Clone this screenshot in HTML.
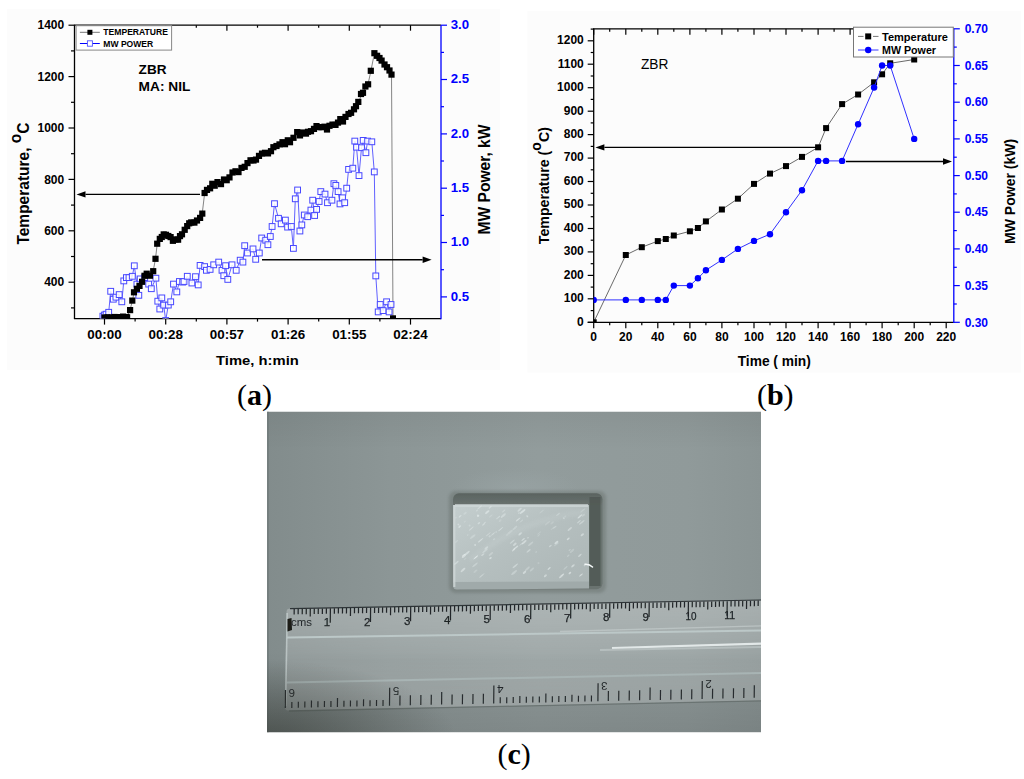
<!DOCTYPE html>
<html><head><meta charset="utf-8"><style>
html,body{margin:0;padding:0;background:#fff;}
body{width:1024px;height:779px;overflow:hidden;position:relative;}
svg{position:absolute;left:0;top:0;}
</style></head><body>
<svg width="1024" height="779" viewBox="0 0 1024 779">
<rect x="7" y="9" width="493" height="361" fill="#fcfcfc"/>
<line x1="71.0" y1="307.9" x2="74.5" y2="307.9" stroke="#000" stroke-width="1.2"/>
<line x1="68.5" y1="282.2" x2="74.5" y2="282.2" stroke="#000" stroke-width="1.2"/>
<text x="64.2" y="286.3" font-size="12" font-weight="bold" fill="#000" text-anchor="end" font-family='"Liberation Sans", sans-serif' >400</text>
<line x1="71.0" y1="256.5" x2="74.5" y2="256.5" stroke="#000" stroke-width="1.2"/>
<line x1="68.5" y1="230.8" x2="74.5" y2="230.8" stroke="#000" stroke-width="1.2"/>
<text x="64.2" y="234.9" font-size="12" font-weight="bold" fill="#000" text-anchor="end" font-family='"Liberation Sans", sans-serif' >600</text>
<line x1="71.0" y1="205.1" x2="74.5" y2="205.1" stroke="#000" stroke-width="1.2"/>
<line x1="68.5" y1="179.4" x2="74.5" y2="179.4" stroke="#000" stroke-width="1.2"/>
<text x="64.2" y="183.5" font-size="12" font-weight="bold" fill="#000" text-anchor="end" font-family='"Liberation Sans", sans-serif' >800</text>
<line x1="71.0" y1="153.7" x2="74.5" y2="153.7" stroke="#000" stroke-width="1.2"/>
<line x1="68.5" y1="128.0" x2="74.5" y2="128.0" stroke="#000" stroke-width="1.2"/>
<text x="64.2" y="132.1" font-size="12" font-weight="bold" fill="#000" text-anchor="end" font-family='"Liberation Sans", sans-serif' >1000</text>
<line x1="71.0" y1="102.3" x2="74.5" y2="102.3" stroke="#000" stroke-width="1.2"/>
<line x1="68.5" y1="76.6" x2="74.5" y2="76.6" stroke="#000" stroke-width="1.2"/>
<text x="64.2" y="80.7" font-size="12" font-weight="bold" fill="#000" text-anchor="end" font-family='"Liberation Sans", sans-serif' >1200</text>
<line x1="71.0" y1="50.9" x2="74.5" y2="50.9" stroke="#000" stroke-width="1.2"/>
<line x1="68.5" y1="25.2" x2="74.5" y2="25.2" stroke="#000" stroke-width="1.2"/>
<text x="64.2" y="29.3" font-size="12" font-weight="bold" fill="#000" text-anchor="end" font-family='"Liberation Sans", sans-serif' >1400</text>
<line x1="441.0" y1="296.9" x2="447.0" y2="296.9" stroke="#0000ff" stroke-width="1.2"/>
<text x="450.7" y="300.8" font-size="12.7" font-weight="bold" fill="#0000ff" text-anchor="start" font-family='"Liberation Sans", sans-serif' textLength="18.4" lengthAdjust="spacingAndGlyphs" >0.5</text>
<line x1="441.0" y1="269.7" x2="444.0" y2="269.7" stroke="#0000ff" stroke-width="1.2"/>
<line x1="441.0" y1="242.5" x2="447.0" y2="242.5" stroke="#0000ff" stroke-width="1.2"/>
<text x="450.7" y="246.4" font-size="12.7" font-weight="bold" fill="#0000ff" text-anchor="start" font-family='"Liberation Sans", sans-serif' textLength="18.4" lengthAdjust="spacingAndGlyphs" >1.0</text>
<line x1="441.0" y1="215.4" x2="444.0" y2="215.4" stroke="#0000ff" stroke-width="1.2"/>
<line x1="441.0" y1="188.2" x2="447.0" y2="188.2" stroke="#0000ff" stroke-width="1.2"/>
<text x="450.7" y="192.1" font-size="12.7" font-weight="bold" fill="#0000ff" text-anchor="start" font-family='"Liberation Sans", sans-serif' textLength="18.4" lengthAdjust="spacingAndGlyphs" >1.5</text>
<line x1="441.0" y1="161.0" x2="444.0" y2="161.0" stroke="#0000ff" stroke-width="1.2"/>
<line x1="441.0" y1="133.9" x2="447.0" y2="133.9" stroke="#0000ff" stroke-width="1.2"/>
<text x="450.7" y="137.8" font-size="12.7" font-weight="bold" fill="#0000ff" text-anchor="start" font-family='"Liberation Sans", sans-serif' textLength="18.4" lengthAdjust="spacingAndGlyphs" >2.0</text>
<line x1="441.0" y1="106.7" x2="444.0" y2="106.7" stroke="#0000ff" stroke-width="1.2"/>
<line x1="441.0" y1="79.5" x2="447.0" y2="79.5" stroke="#0000ff" stroke-width="1.2"/>
<text x="450.7" y="83.4" font-size="12.7" font-weight="bold" fill="#0000ff" text-anchor="start" font-family='"Liberation Sans", sans-serif' textLength="18.4" lengthAdjust="spacingAndGlyphs" >2.5</text>
<line x1="441.0" y1="52.4" x2="444.0" y2="52.4" stroke="#0000ff" stroke-width="1.2"/>
<line x1="441.0" y1="25.2" x2="447.0" y2="25.2" stroke="#0000ff" stroke-width="1.2"/>
<text x="450.7" y="29.1" font-size="12.7" font-weight="bold" fill="#0000ff" text-anchor="start" font-family='"Liberation Sans", sans-serif' textLength="18.4" lengthAdjust="spacingAndGlyphs" >3.0</text>
<line x1="104.5" y1="318.6" x2="104.5" y2="324.6" stroke="#000" stroke-width="1.2"/>
<line x1="104.5" y1="25.2" x2="104.5" y2="30.7" stroke="#000" stroke-width="1.2"/>
<line x1="135.1" y1="318.6" x2="135.1" y2="321.6" stroke="#000" stroke-width="1.2"/>
<line x1="135.1" y1="25.2" x2="135.1" y2="27.7" stroke="#000" stroke-width="1.2"/>
<line x1="165.7" y1="318.6" x2="165.7" y2="324.6" stroke="#000" stroke-width="1.2"/>
<line x1="165.7" y1="25.2" x2="165.7" y2="30.7" stroke="#000" stroke-width="1.2"/>
<line x1="196.3" y1="318.6" x2="196.3" y2="321.6" stroke="#000" stroke-width="1.2"/>
<line x1="196.3" y1="25.2" x2="196.3" y2="27.7" stroke="#000" stroke-width="1.2"/>
<line x1="226.9" y1="318.6" x2="226.9" y2="324.6" stroke="#000" stroke-width="1.2"/>
<line x1="226.9" y1="25.2" x2="226.9" y2="30.7" stroke="#000" stroke-width="1.2"/>
<line x1="257.5" y1="318.6" x2="257.5" y2="321.6" stroke="#000" stroke-width="1.2"/>
<line x1="257.5" y1="25.2" x2="257.5" y2="27.7" stroke="#000" stroke-width="1.2"/>
<line x1="288.1" y1="318.6" x2="288.1" y2="324.6" stroke="#000" stroke-width="1.2"/>
<line x1="288.1" y1="25.2" x2="288.1" y2="30.7" stroke="#000" stroke-width="1.2"/>
<line x1="318.7" y1="318.6" x2="318.7" y2="321.6" stroke="#000" stroke-width="1.2"/>
<line x1="318.7" y1="25.2" x2="318.7" y2="27.7" stroke="#000" stroke-width="1.2"/>
<line x1="349.3" y1="318.6" x2="349.3" y2="324.6" stroke="#000" stroke-width="1.2"/>
<line x1="349.3" y1="25.2" x2="349.3" y2="30.7" stroke="#000" stroke-width="1.2"/>
<line x1="379.9" y1="318.6" x2="379.9" y2="321.6" stroke="#000" stroke-width="1.2"/>
<line x1="379.9" y1="25.2" x2="379.9" y2="27.7" stroke="#000" stroke-width="1.2"/>
<line x1="410.5" y1="318.6" x2="410.5" y2="324.6" stroke="#000" stroke-width="1.2"/>
<line x1="410.5" y1="25.2" x2="410.5" y2="30.7" stroke="#000" stroke-width="1.2"/>
<text x="104.5" y="339.3" font-size="12.7" font-weight="bold" fill="#000" text-anchor="middle" font-family='"Liberation Sans", sans-serif' textLength="34.3" lengthAdjust="spacingAndGlyphs" >00:00</text>
<text x="165.7" y="339.3" font-size="12.7" font-weight="bold" fill="#000" text-anchor="middle" font-family='"Liberation Sans", sans-serif' textLength="34.3" lengthAdjust="spacingAndGlyphs" >00:28</text>
<text x="226.9" y="339.3" font-size="12.7" font-weight="bold" fill="#000" text-anchor="middle" font-family='"Liberation Sans", sans-serif' textLength="34.3" lengthAdjust="spacingAndGlyphs" >00:57</text>
<text x="288.1" y="339.3" font-size="12.7" font-weight="bold" fill="#000" text-anchor="middle" font-family='"Liberation Sans", sans-serif' textLength="34.3" lengthAdjust="spacingAndGlyphs" >01:26</text>
<text x="349.3" y="339.3" font-size="12.7" font-weight="bold" fill="#000" text-anchor="middle" font-family='"Liberation Sans", sans-serif' textLength="34.3" lengthAdjust="spacingAndGlyphs" >01:55</text>
<text x="410.5" y="339.3" font-size="12.7" font-weight="bold" fill="#000" text-anchor="middle" font-family='"Liberation Sans", sans-serif' textLength="34.3" lengthAdjust="spacingAndGlyphs" >02:24</text>
<line x1="74.5" y1="25.2" x2="74.5" y2="318.6" stroke="#000" stroke-width="1.3"/>
<line x1="73.9" y1="318.6" x2="441.0" y2="318.6" stroke="#000" stroke-width="1.3"/>
<line x1="73.9" y1="25.2" x2="441.0" y2="25.2" stroke="#000" stroke-width="1.3"/>
<line x1="441.0" y1="25.2" x2="441.0" y2="319.20000000000005" stroke="#0000ff" stroke-width="1.3"/>
<text x="216.1" y="364.6" font-size="13.5" font-weight="bold" fill="#000" text-anchor="start" font-family='"Liberation Sans", sans-serif' textLength="82.7" lengthAdjust="spacingAndGlyphs" >Time, h:min</text>
<text transform="translate(28.9 244.6) rotate(-90) scale(0.97 1)" font-family='"Liberation Sans", sans-serif' font-weight="bold" font-size="16" fill="#000">Temperature, <tspan dy="-7.7">o</tspan><tspan dy="7.7">C</tspan></text>
<text transform="translate(490.3 234.5) rotate(-90)" font-family='"Liberation Sans", sans-serif' font-weight="bold" font-size="16" fill="#000" textLength="110" lengthAdjust="spacingAndGlyphs">MW Power, kW</text>
<text x="138.6" y="74.0" font-size="13.4" font-weight="bold" fill="#000" text-anchor="start" font-family='"Liberation Sans", sans-serif' textLength="27.9" lengthAdjust="spacingAndGlyphs" >ZBR</text>
<text x="138.6" y="91.1" font-size="13.4" font-weight="bold" fill="#000" text-anchor="start" font-family='"Liberation Sans", sans-serif' textLength="51.7" lengthAdjust="spacingAndGlyphs" >MA: NIL</text>
<rect x="76.1" y="25.7" width="95.5" height="24.4" fill="#fff" stroke="#888" stroke-width="1"/>
<line x1="79.9" y1="32.3" x2="99.8" y2="32.3" stroke="#777" stroke-width="1"/>
<rect x="87.4" y="29.8" width="5" height="5" fill="#000"/>
<line x1="79.9" y1="43.5" x2="99.8" y2="43.5" stroke="#0000ff" stroke-width="1"/>
<rect x="87.4" y="40.8" width="5" height="5.4" fill="#fff" stroke="#5050ff" stroke-width="0.9"/>
<text x="103.3" y="35.2" font-size="8.5" font-weight="bold" fill="#000" text-anchor="start" font-family='"Liberation Sans", sans-serif' textLength="64.7" lengthAdjust="spacingAndGlyphs" >TEMPERATURE</text>
<text x="103.3" y="46.7" font-size="8.5" font-weight="bold" fill="#000" text-anchor="start" font-family='"Liberation Sans", sans-serif' textLength="49.9" lengthAdjust="spacingAndGlyphs" >MW POWER</text>
<svg x="74.5" y="24.2" width="366.5" height="294.40000000000003" viewBox="74.5 24.2 366.5 294.40000000000003" overflow="hidden">
<polyline fill="none" stroke="#6060ff" stroke-width="1" points="102.9,316.2 104.5,315.0 106.1,314.2 108.7,312.3 110.7,291.3 113.3,299.2 115.9,297.2 119.2,294.6 121.8,301.8 123.8,280.9 126.4,277.6 129.0,277.6 132.3,276.3 134.3,265.8 136.9,284.1 138.8,295.3 140.2,278.9 144.7,277.6 148.7,284.1 151.3,288.7 155.9,278.2 157.8,301.2 159.8,309.0 161.8,297.9 163.7,305.1 165.7,320.5 168.3,305.1 170.7,301.8 173.5,284.1 176.8,291.9 179.4,281.5 182.7,282.1 184.0,281.5 187.3,276.3 191.9,283.0 195.5,276.7 198.2,284.9 200.1,265.4 204.6,266.6 206.4,270.3 210.1,269.4 213.7,264.8 218.7,262.1 222.0,270.3 223.8,275.7 225.6,265.7 227.8,279.4 232.0,264.8 236.2,270.3 240.2,260.2 242.9,262.1 244.7,245.7 247.5,253.0 253.0,248.9 255.7,259.3 259.3,253.0 261.7,238.0 265.7,240.2 267.9,244.7 270.3,236.5 272.1,226.5 274.5,203.7 278.5,218.3 281.2,223.8 285.4,220.1 287.6,227.1 291.3,226.5 293.4,248.4 295.3,198.8 297.6,190.0 299.9,231.0 301.8,224.9 304.3,215.0 307.7,216.7 310.9,210.1 312.7,200.2 314.6,215.5 316.6,209.4 319.1,201.5 320.8,191.6 325.0,194.1 327.5,202.7 331.9,200.2 333.9,183.7 335.8,185.4 338.1,191.6 340.0,203.9 342.5,197.8 344.7,202.7 346.7,188.2 348.6,169.4 352.8,168.2 354.8,141.1 356.5,147.2 359.0,175.6 361.5,147.7 363.2,140.4 365.9,152.7 367.6,141.1 371.8,141.8 374.3,171.9 375.8,275.9 378.2,311.9 380.2,304.5 383.1,310.6 386.6,301.8 389.1,311.9 391.0,304.5"/>
<polyline fill="none" stroke="#666" stroke-width="0.8" points="104.5,317.6 107.5,317.2 111.4,316.9 114.5,317.1 117.3,317.1 120.2,317.1 123.1,317.1 126.0,317.1 127.1,317.1 130.1,309.7 132.3,301.2 134.0,292.6 136.9,289.4 139.5,285.4 142.1,281.5 144.5,276.5 146.7,273.0 150.0,275.0 153.2,271.0 155.5,258.6 157.2,244.2 159.8,239.6 161.8,237.0 163.7,235.1 166.0,236.0 168.3,237.0 170.6,239.0 172.9,240.9 175.5,239.6 178.1,238.3 180.0,236.0 182.0,233.7 184.7,229.8 187.2,225.5 189.2,223.5 191.2,223.3 194.4,220.6 197.0,218.5 200.1,216.5 202.3,212.8 204.6,193.7 207.0,191.0 210.1,189.1 212.3,185.5 214.7,184.6 217.5,182.5 221.0,182.7 224.0,180.0 226.7,178.4 229.5,176.0 232.5,174.5 235.5,172.5 238.5,170.5 241.5,168.0 244.7,164.9 247.5,163.5 250.5,162.0 253.5,160.0 256.0,158.5 259.0,156.8 262.0,155.3 265.0,153.5 268.0,151.5 271.0,150.2 273.4,148.7 276.5,147.0 279.5,146.0 282.5,144.0 285.0,143.0 287.8,141.6 290.0,142.0 293.5,138.0 297.2,133.3 300.0,134.5 303.0,134.0 306.0,133.0 308.0,133.3 311.0,131.5 314.0,130.0 316.5,127.0 318.7,125.2 321.5,126.0 324.5,127.5 327.0,128.0 329.5,127.0 332.5,125.0 335.5,123.5 338.0,122.0 340.3,120.7 343.0,119.5 345.5,118.0 348.5,115.0 351.1,111.7 354.0,110.0 356.0,107.0 358.3,103.6 361.0,95.6 363.0,92.5 365.4,87.5 368.1,83.9 370.8,71.3 374.4,53.4 377.1,55.1 379.5,58.0 381.6,60.5 384.5,64.0 387.0,67.7 389.5,71.0 391.5,74.0 393.0,317.3"/>
<rect x="100.0" y="313.3" width="5.8" height="5.8" fill="#fff" fill-opacity="0.85" stroke="#4848ff" stroke-width="1"/>
<rect x="101.6" y="312.1" width="5.8" height="5.8" fill="#fff" fill-opacity="0.85" stroke="#4848ff" stroke-width="1"/>
<rect x="103.2" y="311.3" width="5.8" height="5.8" fill="#fff" fill-opacity="0.85" stroke="#4848ff" stroke-width="1"/>
<rect x="105.8" y="309.4" width="5.8" height="5.8" fill="#fff" fill-opacity="0.85" stroke="#4848ff" stroke-width="1"/>
<rect x="107.8" y="288.4" width="5.8" height="5.8" fill="#fff" fill-opacity="0.85" stroke="#4848ff" stroke-width="1"/>
<rect x="110.4" y="296.3" width="5.8" height="5.8" fill="#fff" fill-opacity="0.85" stroke="#4848ff" stroke-width="1"/>
<rect x="113.0" y="294.3" width="5.8" height="5.8" fill="#fff" fill-opacity="0.85" stroke="#4848ff" stroke-width="1"/>
<rect x="116.3" y="291.7" width="5.8" height="5.8" fill="#fff" fill-opacity="0.85" stroke="#4848ff" stroke-width="1"/>
<rect x="118.9" y="298.9" width="5.8" height="5.8" fill="#fff" fill-opacity="0.85" stroke="#4848ff" stroke-width="1"/>
<rect x="120.9" y="278.0" width="5.8" height="5.8" fill="#fff" fill-opacity="0.85" stroke="#4848ff" stroke-width="1"/>
<rect x="123.5" y="274.7" width="5.8" height="5.8" fill="#fff" fill-opacity="0.85" stroke="#4848ff" stroke-width="1"/>
<rect x="126.1" y="274.7" width="5.8" height="5.8" fill="#fff" fill-opacity="0.85" stroke="#4848ff" stroke-width="1"/>
<rect x="129.4" y="273.4" width="5.8" height="5.8" fill="#fff" fill-opacity="0.85" stroke="#4848ff" stroke-width="1"/>
<rect x="131.4" y="262.9" width="5.8" height="5.8" fill="#fff" fill-opacity="0.85" stroke="#4848ff" stroke-width="1"/>
<rect x="134.0" y="281.2" width="5.8" height="5.8" fill="#fff" fill-opacity="0.85" stroke="#4848ff" stroke-width="1"/>
<rect x="135.9" y="292.4" width="5.8" height="5.8" fill="#fff" fill-opacity="0.85" stroke="#4848ff" stroke-width="1"/>
<rect x="137.3" y="276.0" width="5.8" height="5.8" fill="#fff" fill-opacity="0.85" stroke="#4848ff" stroke-width="1"/>
<rect x="141.8" y="274.7" width="5.8" height="5.8" fill="#fff" fill-opacity="0.85" stroke="#4848ff" stroke-width="1"/>
<rect x="145.8" y="281.2" width="5.8" height="5.8" fill="#fff" fill-opacity="0.85" stroke="#4848ff" stroke-width="1"/>
<rect x="148.4" y="285.8" width="5.8" height="5.8" fill="#fff" fill-opacity="0.85" stroke="#4848ff" stroke-width="1"/>
<rect x="153.0" y="275.3" width="5.8" height="5.8" fill="#fff" fill-opacity="0.85" stroke="#4848ff" stroke-width="1"/>
<rect x="154.9" y="298.3" width="5.8" height="5.8" fill="#fff" fill-opacity="0.85" stroke="#4848ff" stroke-width="1"/>
<rect x="156.9" y="306.1" width="5.8" height="5.8" fill="#fff" fill-opacity="0.85" stroke="#4848ff" stroke-width="1"/>
<rect x="158.9" y="295.0" width="5.8" height="5.8" fill="#fff" fill-opacity="0.85" stroke="#4848ff" stroke-width="1"/>
<rect x="160.8" y="302.2" width="5.8" height="5.8" fill="#fff" fill-opacity="0.85" stroke="#4848ff" stroke-width="1"/>
<rect x="162.8" y="317.6" width="5.8" height="5.8" fill="#fff" fill-opacity="0.85" stroke="#4848ff" stroke-width="1"/>
<rect x="165.4" y="302.2" width="5.8" height="5.8" fill="#fff" fill-opacity="0.85" stroke="#4848ff" stroke-width="1"/>
<rect x="167.8" y="298.9" width="5.8" height="5.8" fill="#fff" fill-opacity="0.85" stroke="#4848ff" stroke-width="1"/>
<rect x="170.6" y="281.2" width="5.8" height="5.8" fill="#fff" fill-opacity="0.85" stroke="#4848ff" stroke-width="1"/>
<rect x="173.9" y="289.0" width="5.8" height="5.8" fill="#fff" fill-opacity="0.85" stroke="#4848ff" stroke-width="1"/>
<rect x="176.5" y="278.6" width="5.8" height="5.8" fill="#fff" fill-opacity="0.85" stroke="#4848ff" stroke-width="1"/>
<rect x="179.8" y="279.2" width="5.8" height="5.8" fill="#fff" fill-opacity="0.85" stroke="#4848ff" stroke-width="1"/>
<rect x="181.1" y="278.6" width="5.8" height="5.8" fill="#fff" fill-opacity="0.85" stroke="#4848ff" stroke-width="1"/>
<rect x="184.4" y="273.4" width="5.8" height="5.8" fill="#fff" fill-opacity="0.85" stroke="#4848ff" stroke-width="1"/>
<rect x="189.0" y="280.1" width="5.8" height="5.8" fill="#fff" fill-opacity="0.85" stroke="#4848ff" stroke-width="1"/>
<rect x="192.6" y="273.8" width="5.8" height="5.8" fill="#fff" fill-opacity="0.85" stroke="#4848ff" stroke-width="1"/>
<rect x="195.3" y="282.0" width="5.8" height="5.8" fill="#fff" fill-opacity="0.85" stroke="#4848ff" stroke-width="1"/>
<rect x="197.2" y="262.5" width="5.8" height="5.8" fill="#fff" fill-opacity="0.85" stroke="#4848ff" stroke-width="1"/>
<rect x="201.7" y="263.7" width="5.8" height="5.8" fill="#fff" fill-opacity="0.85" stroke="#4848ff" stroke-width="1"/>
<rect x="203.5" y="267.4" width="5.8" height="5.8" fill="#fff" fill-opacity="0.85" stroke="#4848ff" stroke-width="1"/>
<rect x="207.2" y="266.5" width="5.8" height="5.8" fill="#fff" fill-opacity="0.85" stroke="#4848ff" stroke-width="1"/>
<rect x="210.8" y="261.9" width="5.8" height="5.8" fill="#fff" fill-opacity="0.85" stroke="#4848ff" stroke-width="1"/>
<rect x="215.8" y="259.2" width="5.8" height="5.8" fill="#fff" fill-opacity="0.85" stroke="#4848ff" stroke-width="1"/>
<rect x="219.1" y="267.4" width="5.8" height="5.8" fill="#fff" fill-opacity="0.85" stroke="#4848ff" stroke-width="1"/>
<rect x="220.9" y="272.8" width="5.8" height="5.8" fill="#fff" fill-opacity="0.85" stroke="#4848ff" stroke-width="1"/>
<rect x="222.7" y="262.8" width="5.8" height="5.8" fill="#fff" fill-opacity="0.85" stroke="#4848ff" stroke-width="1"/>
<rect x="224.9" y="276.5" width="5.8" height="5.8" fill="#fff" fill-opacity="0.85" stroke="#4848ff" stroke-width="1"/>
<rect x="229.1" y="261.9" width="5.8" height="5.8" fill="#fff" fill-opacity="0.85" stroke="#4848ff" stroke-width="1"/>
<rect x="233.3" y="267.4" width="5.8" height="5.8" fill="#fff" fill-opacity="0.85" stroke="#4848ff" stroke-width="1"/>
<rect x="237.3" y="257.3" width="5.8" height="5.8" fill="#fff" fill-opacity="0.85" stroke="#4848ff" stroke-width="1"/>
<rect x="240.0" y="259.2" width="5.8" height="5.8" fill="#fff" fill-opacity="0.85" stroke="#4848ff" stroke-width="1"/>
<rect x="241.8" y="242.8" width="5.8" height="5.8" fill="#fff" fill-opacity="0.85" stroke="#4848ff" stroke-width="1"/>
<rect x="244.6" y="250.1" width="5.8" height="5.8" fill="#fff" fill-opacity="0.85" stroke="#4848ff" stroke-width="1"/>
<rect x="250.1" y="246.0" width="5.8" height="5.8" fill="#fff" fill-opacity="0.85" stroke="#4848ff" stroke-width="1"/>
<rect x="252.8" y="256.4" width="5.8" height="5.8" fill="#fff" fill-opacity="0.85" stroke="#4848ff" stroke-width="1"/>
<rect x="256.4" y="250.1" width="5.8" height="5.8" fill="#fff" fill-opacity="0.85" stroke="#4848ff" stroke-width="1"/>
<rect x="258.8" y="235.1" width="5.8" height="5.8" fill="#fff" fill-opacity="0.85" stroke="#4848ff" stroke-width="1"/>
<rect x="262.8" y="237.3" width="5.8" height="5.8" fill="#fff" fill-opacity="0.85" stroke="#4848ff" stroke-width="1"/>
<rect x="265.0" y="241.8" width="5.8" height="5.8" fill="#fff" fill-opacity="0.85" stroke="#4848ff" stroke-width="1"/>
<rect x="267.4" y="233.6" width="5.8" height="5.8" fill="#fff" fill-opacity="0.85" stroke="#4848ff" stroke-width="1"/>
<rect x="269.2" y="223.6" width="5.8" height="5.8" fill="#fff" fill-opacity="0.85" stroke="#4848ff" stroke-width="1"/>
<rect x="271.6" y="200.8" width="5.8" height="5.8" fill="#fff" fill-opacity="0.85" stroke="#4848ff" stroke-width="1"/>
<rect x="275.6" y="215.4" width="5.8" height="5.8" fill="#fff" fill-opacity="0.85" stroke="#4848ff" stroke-width="1"/>
<rect x="278.3" y="220.9" width="5.8" height="5.8" fill="#fff" fill-opacity="0.85" stroke="#4848ff" stroke-width="1"/>
<rect x="282.5" y="217.2" width="5.8" height="5.8" fill="#fff" fill-opacity="0.85" stroke="#4848ff" stroke-width="1"/>
<rect x="284.7" y="224.2" width="5.8" height="5.8" fill="#fff" fill-opacity="0.85" stroke="#4848ff" stroke-width="1"/>
<rect x="288.4" y="223.6" width="5.8" height="5.8" fill="#fff" fill-opacity="0.85" stroke="#4848ff" stroke-width="1"/>
<rect x="290.5" y="245.5" width="5.8" height="5.8" fill="#fff" fill-opacity="0.85" stroke="#4848ff" stroke-width="1"/>
<rect x="292.4" y="195.9" width="5.8" height="5.8" fill="#fff" fill-opacity="0.85" stroke="#4848ff" stroke-width="1"/>
<rect x="294.7" y="187.1" width="5.8" height="5.8" fill="#fff" fill-opacity="0.85" stroke="#4848ff" stroke-width="1"/>
<rect x="297.0" y="228.1" width="5.8" height="5.8" fill="#fff" fill-opacity="0.85" stroke="#4848ff" stroke-width="1"/>
<rect x="298.9" y="222.0" width="5.8" height="5.8" fill="#fff" fill-opacity="0.85" stroke="#4848ff" stroke-width="1"/>
<rect x="301.4" y="212.1" width="5.8" height="5.8" fill="#fff" fill-opacity="0.85" stroke="#4848ff" stroke-width="1"/>
<rect x="304.8" y="213.8" width="5.8" height="5.8" fill="#fff" fill-opacity="0.85" stroke="#4848ff" stroke-width="1"/>
<rect x="308.0" y="207.2" width="5.8" height="5.8" fill="#fff" fill-opacity="0.85" stroke="#4848ff" stroke-width="1"/>
<rect x="309.8" y="197.3" width="5.8" height="5.8" fill="#fff" fill-opacity="0.85" stroke="#4848ff" stroke-width="1"/>
<rect x="311.7" y="212.6" width="5.8" height="5.8" fill="#fff" fill-opacity="0.85" stroke="#4848ff" stroke-width="1"/>
<rect x="313.7" y="206.5" width="5.8" height="5.8" fill="#fff" fill-opacity="0.85" stroke="#4848ff" stroke-width="1"/>
<rect x="316.2" y="198.6" width="5.8" height="5.8" fill="#fff" fill-opacity="0.85" stroke="#4848ff" stroke-width="1"/>
<rect x="317.9" y="188.7" width="5.8" height="5.8" fill="#fff" fill-opacity="0.85" stroke="#4848ff" stroke-width="1"/>
<rect x="322.1" y="191.2" width="5.8" height="5.8" fill="#fff" fill-opacity="0.85" stroke="#4848ff" stroke-width="1"/>
<rect x="324.6" y="199.8" width="5.8" height="5.8" fill="#fff" fill-opacity="0.85" stroke="#4848ff" stroke-width="1"/>
<rect x="329.0" y="197.3" width="5.8" height="5.8" fill="#fff" fill-opacity="0.85" stroke="#4848ff" stroke-width="1"/>
<rect x="331.0" y="180.8" width="5.8" height="5.8" fill="#fff" fill-opacity="0.85" stroke="#4848ff" stroke-width="1"/>
<rect x="332.9" y="182.5" width="5.8" height="5.8" fill="#fff" fill-opacity="0.85" stroke="#4848ff" stroke-width="1"/>
<rect x="335.2" y="188.7" width="5.8" height="5.8" fill="#fff" fill-opacity="0.85" stroke="#4848ff" stroke-width="1"/>
<rect x="337.1" y="201.0" width="5.8" height="5.8" fill="#fff" fill-opacity="0.85" stroke="#4848ff" stroke-width="1"/>
<rect x="339.6" y="194.9" width="5.8" height="5.8" fill="#fff" fill-opacity="0.85" stroke="#4848ff" stroke-width="1"/>
<rect x="341.8" y="199.8" width="5.8" height="5.8" fill="#fff" fill-opacity="0.85" stroke="#4848ff" stroke-width="1"/>
<rect x="343.8" y="185.3" width="5.8" height="5.8" fill="#fff" fill-opacity="0.85" stroke="#4848ff" stroke-width="1"/>
<rect x="345.7" y="166.5" width="5.8" height="5.8" fill="#fff" fill-opacity="0.85" stroke="#4848ff" stroke-width="1"/>
<rect x="349.9" y="165.3" width="5.8" height="5.8" fill="#fff" fill-opacity="0.85" stroke="#4848ff" stroke-width="1"/>
<rect x="351.9" y="138.2" width="5.8" height="5.8" fill="#fff" fill-opacity="0.85" stroke="#4848ff" stroke-width="1"/>
<rect x="353.6" y="144.3" width="5.8" height="5.8" fill="#fff" fill-opacity="0.85" stroke="#4848ff" stroke-width="1"/>
<rect x="356.1" y="172.7" width="5.8" height="5.8" fill="#fff" fill-opacity="0.85" stroke="#4848ff" stroke-width="1"/>
<rect x="358.6" y="144.8" width="5.8" height="5.8" fill="#fff" fill-opacity="0.85" stroke="#4848ff" stroke-width="1"/>
<rect x="360.3" y="137.5" width="5.8" height="5.8" fill="#fff" fill-opacity="0.85" stroke="#4848ff" stroke-width="1"/>
<rect x="363.0" y="149.8" width="5.8" height="5.8" fill="#fff" fill-opacity="0.85" stroke="#4848ff" stroke-width="1"/>
<rect x="364.7" y="138.2" width="5.8" height="5.8" fill="#fff" fill-opacity="0.85" stroke="#4848ff" stroke-width="1"/>
<rect x="368.9" y="138.9" width="5.8" height="5.8" fill="#fff" fill-opacity="0.85" stroke="#4848ff" stroke-width="1"/>
<rect x="371.4" y="169.0" width="5.8" height="5.8" fill="#fff" fill-opacity="0.85" stroke="#4848ff" stroke-width="1"/>
<rect x="372.9" y="273.0" width="5.8" height="5.8" fill="#fff" fill-opacity="0.85" stroke="#4848ff" stroke-width="1"/>
<rect x="375.3" y="309.0" width="5.8" height="5.8" fill="#fff" fill-opacity="0.85" stroke="#4848ff" stroke-width="1"/>
<rect x="377.3" y="301.6" width="5.8" height="5.8" fill="#fff" fill-opacity="0.85" stroke="#4848ff" stroke-width="1"/>
<rect x="380.2" y="307.7" width="5.8" height="5.8" fill="#fff" fill-opacity="0.85" stroke="#4848ff" stroke-width="1"/>
<rect x="383.7" y="298.9" width="5.8" height="5.8" fill="#fff" fill-opacity="0.85" stroke="#4848ff" stroke-width="1"/>
<rect x="386.2" y="309.0" width="5.8" height="5.8" fill="#fff" fill-opacity="0.85" stroke="#4848ff" stroke-width="1"/>
<rect x="388.1" y="301.6" width="5.8" height="5.8" fill="#fff" fill-opacity="0.85" stroke="#4848ff" stroke-width="1"/>
<rect x="101.4" y="314.4" width="6.2" height="6.2" fill="#000"/>
<rect x="104.4" y="314.2" width="6.2" height="6.2" fill="#000"/>
<rect x="108.3" y="314.4" width="6.2" height="6.2" fill="#000"/>
<rect x="111.4" y="313.9" width="6.2" height="6.2" fill="#000"/>
<rect x="114.2" y="314.0" width="6.2" height="6.2" fill="#000"/>
<rect x="117.1" y="314.1" width="6.2" height="6.2" fill="#000"/>
<rect x="120.0" y="313.5" width="6.2" height="6.2" fill="#000"/>
<rect x="122.9" y="314.0" width="6.2" height="6.2" fill="#000"/>
<rect x="124.0" y="314.2" width="6.2" height="6.2" fill="#000"/>
<rect x="127.0" y="307.0" width="6.2" height="6.2" fill="#000"/>
<rect x="129.2" y="297.5" width="6.2" height="6.2" fill="#000"/>
<rect x="130.9" y="289.2" width="6.2" height="6.2" fill="#000"/>
<rect x="133.8" y="285.7" width="6.2" height="6.2" fill="#000"/>
<rect x="136.4" y="282.8" width="6.2" height="6.2" fill="#000"/>
<rect x="139.0" y="278.7" width="6.2" height="6.2" fill="#000"/>
<rect x="141.4" y="272.7" width="6.2" height="6.2" fill="#000"/>
<rect x="143.6" y="270.6" width="6.2" height="6.2" fill="#000"/>
<rect x="146.9" y="272.6" width="6.2" height="6.2" fill="#000"/>
<rect x="150.1" y="268.1" width="6.2" height="6.2" fill="#000"/>
<rect x="152.4" y="255.7" width="6.2" height="6.2" fill="#000"/>
<rect x="154.1" y="240.6" width="6.2" height="6.2" fill="#000"/>
<rect x="156.7" y="235.8" width="6.2" height="6.2" fill="#000"/>
<rect x="158.7" y="233.9" width="6.2" height="6.2" fill="#000"/>
<rect x="160.6" y="231.3" width="6.2" height="6.2" fill="#000"/>
<rect x="162.9" y="231.7" width="6.2" height="6.2" fill="#000"/>
<rect x="165.2" y="232.9" width="6.2" height="6.2" fill="#000"/>
<rect x="167.5" y="234.0" width="6.2" height="6.2" fill="#000"/>
<rect x="169.8" y="237.7" width="6.2" height="6.2" fill="#000"/>
<rect x="172.4" y="236.3" width="6.2" height="6.2" fill="#000"/>
<rect x="175.0" y="236.6" width="6.2" height="6.2" fill="#000"/>
<rect x="176.9" y="233.0" width="6.2" height="6.2" fill="#000"/>
<rect x="178.9" y="231.2" width="6.2" height="6.2" fill="#000"/>
<rect x="181.6" y="226.7" width="6.2" height="6.2" fill="#000"/>
<rect x="184.1" y="223.0" width="6.2" height="6.2" fill="#000"/>
<rect x="186.1" y="220.2" width="6.2" height="6.2" fill="#000"/>
<rect x="188.1" y="219.3" width="6.2" height="6.2" fill="#000"/>
<rect x="191.3" y="219.5" width="6.2" height="6.2" fill="#000"/>
<rect x="193.9" y="217.4" width="6.2" height="6.2" fill="#000"/>
<rect x="197.0" y="214.8" width="6.2" height="6.2" fill="#000"/>
<rect x="199.2" y="210.5" width="6.2" height="6.2" fill="#000"/>
<rect x="201.5" y="189.9" width="6.2" height="6.2" fill="#000"/>
<rect x="203.9" y="186.8" width="6.2" height="6.2" fill="#000"/>
<rect x="207.0" y="185.2" width="6.2" height="6.2" fill="#000"/>
<rect x="209.2" y="180.7" width="6.2" height="6.2" fill="#000"/>
<rect x="211.6" y="182.6" width="6.2" height="6.2" fill="#000"/>
<rect x="214.4" y="179.0" width="6.2" height="6.2" fill="#000"/>
<rect x="217.9" y="181.0" width="6.2" height="6.2" fill="#000"/>
<rect x="220.9" y="176.4" width="6.2" height="6.2" fill="#000"/>
<rect x="223.6" y="177.1" width="6.2" height="6.2" fill="#000"/>
<rect x="226.4" y="174.3" width="6.2" height="6.2" fill="#000"/>
<rect x="229.4" y="169.4" width="6.2" height="6.2" fill="#000"/>
<rect x="232.4" y="168.2" width="6.2" height="6.2" fill="#000"/>
<rect x="235.4" y="169.0" width="6.2" height="6.2" fill="#000"/>
<rect x="238.4" y="164.8" width="6.2" height="6.2" fill="#000"/>
<rect x="241.6" y="163.7" width="6.2" height="6.2" fill="#000"/>
<rect x="244.4" y="160.0" width="6.2" height="6.2" fill="#000"/>
<rect x="247.4" y="157.2" width="6.2" height="6.2" fill="#000"/>
<rect x="250.4" y="157.4" width="6.2" height="6.2" fill="#000"/>
<rect x="252.9" y="156.5" width="6.2" height="6.2" fill="#000"/>
<rect x="255.9" y="152.8" width="6.2" height="6.2" fill="#000"/>
<rect x="258.9" y="150.5" width="6.2" height="6.2" fill="#000"/>
<rect x="261.9" y="149.7" width="6.2" height="6.2" fill="#000"/>
<rect x="264.9" y="150.3" width="6.2" height="6.2" fill="#000"/>
<rect x="267.9" y="148.1" width="6.2" height="6.2" fill="#000"/>
<rect x="270.3" y="144.1" width="6.2" height="6.2" fill="#000"/>
<rect x="273.4" y="142.9" width="6.2" height="6.2" fill="#000"/>
<rect x="276.4" y="141.3" width="6.2" height="6.2" fill="#000"/>
<rect x="279.4" y="139.1" width="6.2" height="6.2" fill="#000"/>
<rect x="281.9" y="141.1" width="6.2" height="6.2" fill="#000"/>
<rect x="284.7" y="137.2" width="6.2" height="6.2" fill="#000"/>
<rect x="286.9" y="139.1" width="6.2" height="6.2" fill="#000"/>
<rect x="290.4" y="134.7" width="6.2" height="6.2" fill="#000"/>
<rect x="294.1" y="129.0" width="6.2" height="6.2" fill="#000"/>
<rect x="296.9" y="132.3" width="6.2" height="6.2" fill="#000"/>
<rect x="299.9" y="129.4" width="6.2" height="6.2" fill="#000"/>
<rect x="302.9" y="130.5" width="6.2" height="6.2" fill="#000"/>
<rect x="304.9" y="128.7" width="6.2" height="6.2" fill="#000"/>
<rect x="307.9" y="128.1" width="6.2" height="6.2" fill="#000"/>
<rect x="310.9" y="125.8" width="6.2" height="6.2" fill="#000"/>
<rect x="313.4" y="123.0" width="6.2" height="6.2" fill="#000"/>
<rect x="315.6" y="124.0" width="6.2" height="6.2" fill="#000"/>
<rect x="318.4" y="124.1" width="6.2" height="6.2" fill="#000"/>
<rect x="321.4" y="123.6" width="6.2" height="6.2" fill="#000"/>
<rect x="323.9" y="126.4" width="6.2" height="6.2" fill="#000"/>
<rect x="326.4" y="122.7" width="6.2" height="6.2" fill="#000"/>
<rect x="329.4" y="121.5" width="6.2" height="6.2" fill="#000"/>
<rect x="332.4" y="121.8" width="6.2" height="6.2" fill="#000"/>
<rect x="334.9" y="119.5" width="6.2" height="6.2" fill="#000"/>
<rect x="337.2" y="116.0" width="6.2" height="6.2" fill="#000"/>
<rect x="339.9" y="118.4" width="6.2" height="6.2" fill="#000"/>
<rect x="342.4" y="113.8" width="6.2" height="6.2" fill="#000"/>
<rect x="345.4" y="110.9" width="6.2" height="6.2" fill="#000"/>
<rect x="348.0" y="109.7" width="6.2" height="6.2" fill="#000"/>
<rect x="350.9" y="106.2" width="6.2" height="6.2" fill="#000"/>
<rect x="352.9" y="103.1" width="6.2" height="6.2" fill="#000"/>
<rect x="355.2" y="98.8" width="6.2" height="6.2" fill="#000"/>
<rect x="357.9" y="90.9" width="6.2" height="6.2" fill="#000"/>
<rect x="359.9" y="89.7" width="6.2" height="6.2" fill="#000"/>
<rect x="362.3" y="83.4" width="6.2" height="6.2" fill="#000"/>
<rect x="365.0" y="81.2" width="6.2" height="6.2" fill="#000"/>
<rect x="367.7" y="67.7" width="6.2" height="6.2" fill="#000"/>
<rect x="371.3" y="50.1" width="6.2" height="6.2" fill="#000"/>
<rect x="374.0" y="52.7" width="6.2" height="6.2" fill="#000"/>
<rect x="376.4" y="54.9" width="6.2" height="6.2" fill="#000"/>
<rect x="378.5" y="57.5" width="6.2" height="6.2" fill="#000"/>
<rect x="381.4" y="61.4" width="6.2" height="6.2" fill="#000"/>
<rect x="383.9" y="64.1" width="6.2" height="6.2" fill="#000"/>
<rect x="386.4" y="67.4" width="6.2" height="6.2" fill="#000"/>
<rect x="388.4" y="71.5" width="6.2" height="6.2" fill="#000"/>
<rect x="390.0" y="315.3" width="6" height="6" fill="#000"/>
</svg>
<line x1="200" y1="194.4" x2="85.5" y2="194.4" stroke="#000" stroke-width="1.4"/>
<path d="M76.5,194.4 L85.5,191.20000000000002 L85.5,197.6 Z" fill="#000"/>
<line x1="262" y1="259.7" x2="422.6" y2="259.7" stroke="#000" stroke-width="1.4"/>
<path d="M431.6,259.7 L422.6,256.5 L422.6,262.9 Z" fill="#000"/>
<rect x="527.5" y="11" width="493.5" height="361.5" fill="#fcfcfc"/>
<line x1="587.7" y1="322.3" x2="593.7" y2="322.3" stroke="#000" stroke-width="1.2"/>
<text x="583.8" y="325.6" font-size="12" font-weight="bold" fill="#000" text-anchor="end" font-family='"Liberation Sans", sans-serif' >0</text>
<line x1="590.7" y1="310.6" x2="593.7" y2="310.6" stroke="#000" stroke-width="1.2"/>
<line x1="587.7" y1="298.8" x2="593.7" y2="298.8" stroke="#000" stroke-width="1.2"/>
<text x="583.8" y="302.1" font-size="12" font-weight="bold" fill="#000" text-anchor="end" font-family='"Liberation Sans", sans-serif' >100</text>
<line x1="590.7" y1="287.1" x2="593.7" y2="287.1" stroke="#000" stroke-width="1.2"/>
<line x1="587.7" y1="275.4" x2="593.7" y2="275.4" stroke="#000" stroke-width="1.2"/>
<text x="583.8" y="278.7" font-size="12" font-weight="bold" fill="#000" text-anchor="end" font-family='"Liberation Sans", sans-serif' >200</text>
<line x1="590.7" y1="263.7" x2="593.7" y2="263.7" stroke="#000" stroke-width="1.2"/>
<line x1="587.7" y1="251.9" x2="593.7" y2="251.9" stroke="#000" stroke-width="1.2"/>
<text x="583.8" y="255.2" font-size="12" font-weight="bold" fill="#000" text-anchor="end" font-family='"Liberation Sans", sans-serif' >300</text>
<line x1="590.7" y1="240.2" x2="593.7" y2="240.2" stroke="#000" stroke-width="1.2"/>
<line x1="587.7" y1="228.5" x2="593.7" y2="228.5" stroke="#000" stroke-width="1.2"/>
<text x="583.8" y="231.8" font-size="12" font-weight="bold" fill="#000" text-anchor="end" font-family='"Liberation Sans", sans-serif' >400</text>
<line x1="590.7" y1="216.7" x2="593.7" y2="216.7" stroke="#000" stroke-width="1.2"/>
<line x1="587.7" y1="205.0" x2="593.7" y2="205.0" stroke="#000" stroke-width="1.2"/>
<text x="583.8" y="208.3" font-size="12" font-weight="bold" fill="#000" text-anchor="end" font-family='"Liberation Sans", sans-serif' >500</text>
<line x1="590.7" y1="193.3" x2="593.7" y2="193.3" stroke="#000" stroke-width="1.2"/>
<line x1="587.7" y1="181.5" x2="593.7" y2="181.5" stroke="#000" stroke-width="1.2"/>
<text x="583.8" y="184.8" font-size="12" font-weight="bold" fill="#000" text-anchor="end" font-family='"Liberation Sans", sans-serif' >600</text>
<line x1="590.7" y1="169.8" x2="593.7" y2="169.8" stroke="#000" stroke-width="1.2"/>
<line x1="587.7" y1="158.1" x2="593.7" y2="158.1" stroke="#000" stroke-width="1.2"/>
<text x="583.8" y="161.4" font-size="12" font-weight="bold" fill="#000" text-anchor="end" font-family='"Liberation Sans", sans-serif' >700</text>
<line x1="590.7" y1="146.4" x2="593.7" y2="146.4" stroke="#000" stroke-width="1.2"/>
<line x1="587.7" y1="134.6" x2="593.7" y2="134.6" stroke="#000" stroke-width="1.2"/>
<text x="583.8" y="137.9" font-size="12" font-weight="bold" fill="#000" text-anchor="end" font-family='"Liberation Sans", sans-serif' >800</text>
<line x1="590.7" y1="122.9" x2="593.7" y2="122.9" stroke="#000" stroke-width="1.2"/>
<line x1="587.7" y1="111.2" x2="593.7" y2="111.2" stroke="#000" stroke-width="1.2"/>
<text x="583.8" y="114.5" font-size="12" font-weight="bold" fill="#000" text-anchor="end" font-family='"Liberation Sans", sans-serif' >900</text>
<line x1="590.7" y1="99.4" x2="593.7" y2="99.4" stroke="#000" stroke-width="1.2"/>
<line x1="587.7" y1="87.7" x2="593.7" y2="87.7" stroke="#000" stroke-width="1.2"/>
<text x="583.8" y="91.0" font-size="12" font-weight="bold" fill="#000" text-anchor="end" font-family='"Liberation Sans", sans-serif' >1000</text>
<line x1="590.7" y1="76.0" x2="593.7" y2="76.0" stroke="#000" stroke-width="1.2"/>
<line x1="587.7" y1="64.2" x2="593.7" y2="64.2" stroke="#000" stroke-width="1.2"/>
<text x="583.8" y="67.5" font-size="12" font-weight="bold" fill="#000" text-anchor="end" font-family='"Liberation Sans", sans-serif' >1100</text>
<line x1="590.7" y1="52.5" x2="593.7" y2="52.5" stroke="#000" stroke-width="1.2"/>
<line x1="587.7" y1="40.8" x2="593.7" y2="40.8" stroke="#000" stroke-width="1.2"/>
<text x="583.8" y="44.1" font-size="12" font-weight="bold" fill="#000" text-anchor="end" font-family='"Liberation Sans", sans-serif' >1200</text>
<line x1="590.7" y1="29.1" x2="593.7" y2="29.1" stroke="#000" stroke-width="1.2"/>
<line x1="953.8" y1="322.3" x2="959.8" y2="322.3" stroke="#0000ff" stroke-width="1.2"/>
<text x="964.7" y="326.5" font-size="12" font-weight="bold" fill="#0000ff" text-anchor="start" font-family='"Liberation Sans", sans-serif' >0.30</text>
<line x1="953.8" y1="304.0" x2="956.8" y2="304.0" stroke="#0000ff" stroke-width="1.2"/>
<line x1="953.8" y1="285.6" x2="959.8" y2="285.6" stroke="#0000ff" stroke-width="1.2"/>
<text x="964.7" y="289.8" font-size="12" font-weight="bold" fill="#0000ff" text-anchor="start" font-family='"Liberation Sans", sans-serif' >0.35</text>
<line x1="953.8" y1="267.3" x2="956.8" y2="267.3" stroke="#0000ff" stroke-width="1.2"/>
<line x1="953.8" y1="248.9" x2="959.8" y2="248.9" stroke="#0000ff" stroke-width="1.2"/>
<text x="964.7" y="253.1" font-size="12" font-weight="bold" fill="#0000ff" text-anchor="start" font-family='"Liberation Sans", sans-serif' >0.40</text>
<line x1="953.8" y1="230.6" x2="956.8" y2="230.6" stroke="#0000ff" stroke-width="1.2"/>
<line x1="953.8" y1="212.2" x2="959.8" y2="212.2" stroke="#0000ff" stroke-width="1.2"/>
<text x="964.7" y="216.4" font-size="12" font-weight="bold" fill="#0000ff" text-anchor="start" font-family='"Liberation Sans", sans-serif' >0.45</text>
<line x1="953.8" y1="193.9" x2="956.8" y2="193.9" stroke="#0000ff" stroke-width="1.2"/>
<line x1="953.8" y1="175.6" x2="959.8" y2="175.6" stroke="#0000ff" stroke-width="1.2"/>
<text x="964.7" y="179.8" font-size="12" font-weight="bold" fill="#0000ff" text-anchor="start" font-family='"Liberation Sans", sans-serif' >0.50</text>
<line x1="953.8" y1="157.2" x2="956.8" y2="157.2" stroke="#0000ff" stroke-width="1.2"/>
<line x1="953.8" y1="138.9" x2="959.8" y2="138.9" stroke="#0000ff" stroke-width="1.2"/>
<text x="964.7" y="143.1" font-size="12" font-weight="bold" fill="#0000ff" text-anchor="start" font-family='"Liberation Sans", sans-serif' >0.55</text>
<line x1="953.8" y1="120.5" x2="956.8" y2="120.5" stroke="#0000ff" stroke-width="1.2"/>
<line x1="953.8" y1="102.2" x2="959.8" y2="102.2" stroke="#0000ff" stroke-width="1.2"/>
<text x="964.7" y="106.4" font-size="12" font-weight="bold" fill="#0000ff" text-anchor="start" font-family='"Liberation Sans", sans-serif' >0.60</text>
<line x1="953.8" y1="83.8" x2="956.8" y2="83.8" stroke="#0000ff" stroke-width="1.2"/>
<line x1="953.8" y1="65.5" x2="959.8" y2="65.5" stroke="#0000ff" stroke-width="1.2"/>
<text x="964.7" y="69.7" font-size="12" font-weight="bold" fill="#0000ff" text-anchor="start" font-family='"Liberation Sans", sans-serif' >0.65</text>
<line x1="953.8" y1="47.1" x2="956.8" y2="47.1" stroke="#0000ff" stroke-width="1.2"/>
<line x1="953.8" y1="28.8" x2="959.8" y2="28.8" stroke="#0000ff" stroke-width="1.2"/>
<text x="964.7" y="33.0" font-size="12" font-weight="bold" fill="#0000ff" text-anchor="start" font-family='"Liberation Sans", sans-serif' >0.70</text>
<line x1="593.7" y1="322.3" x2="593.7" y2="328.3" stroke="#000" stroke-width="1.2"/>
<line x1="593.7" y1="28.8" x2="593.7" y2="34.8" stroke="#000" stroke-width="1.2"/>
<text x="593.7" y="341.3" font-size="12" font-weight="bold" fill="#000" text-anchor="middle" font-family='"Liberation Sans", sans-serif' >0</text>
<line x1="609.7" y1="322.3" x2="609.7" y2="325.3" stroke="#000" stroke-width="1.2"/>
<line x1="609.7" y1="28.8" x2="609.7" y2="31.8" stroke="#000" stroke-width="1.2"/>
<line x1="625.8" y1="322.3" x2="625.8" y2="328.3" stroke="#000" stroke-width="1.2"/>
<line x1="625.8" y1="28.8" x2="625.8" y2="34.8" stroke="#000" stroke-width="1.2"/>
<text x="625.8" y="341.3" font-size="12" font-weight="bold" fill="#000" text-anchor="middle" font-family='"Liberation Sans", sans-serif' >20</text>
<line x1="641.8" y1="322.3" x2="641.8" y2="325.3" stroke="#000" stroke-width="1.2"/>
<line x1="641.8" y1="28.8" x2="641.8" y2="31.8" stroke="#000" stroke-width="1.2"/>
<line x1="657.8" y1="322.3" x2="657.8" y2="328.3" stroke="#000" stroke-width="1.2"/>
<line x1="657.8" y1="28.8" x2="657.8" y2="34.8" stroke="#000" stroke-width="1.2"/>
<text x="657.8" y="341.3" font-size="12" font-weight="bold" fill="#000" text-anchor="middle" font-family='"Liberation Sans", sans-serif' >40</text>
<line x1="673.8" y1="322.3" x2="673.8" y2="325.3" stroke="#000" stroke-width="1.2"/>
<line x1="673.8" y1="28.8" x2="673.8" y2="31.8" stroke="#000" stroke-width="1.2"/>
<line x1="689.9" y1="322.3" x2="689.9" y2="328.3" stroke="#000" stroke-width="1.2"/>
<line x1="689.9" y1="28.8" x2="689.9" y2="34.8" stroke="#000" stroke-width="1.2"/>
<text x="689.9" y="341.3" font-size="12" font-weight="bold" fill="#000" text-anchor="middle" font-family='"Liberation Sans", sans-serif' >60</text>
<line x1="705.9" y1="322.3" x2="705.9" y2="325.3" stroke="#000" stroke-width="1.2"/>
<line x1="705.9" y1="28.8" x2="705.9" y2="31.8" stroke="#000" stroke-width="1.2"/>
<line x1="721.9" y1="322.3" x2="721.9" y2="328.3" stroke="#000" stroke-width="1.2"/>
<line x1="721.9" y1="28.8" x2="721.9" y2="34.8" stroke="#000" stroke-width="1.2"/>
<text x="721.9" y="341.3" font-size="12" font-weight="bold" fill="#000" text-anchor="middle" font-family='"Liberation Sans", sans-serif' >80</text>
<line x1="737.9" y1="322.3" x2="737.9" y2="325.3" stroke="#000" stroke-width="1.2"/>
<line x1="737.9" y1="28.8" x2="737.9" y2="31.8" stroke="#000" stroke-width="1.2"/>
<line x1="754.0" y1="322.3" x2="754.0" y2="328.3" stroke="#000" stroke-width="1.2"/>
<line x1="754.0" y1="28.8" x2="754.0" y2="34.8" stroke="#000" stroke-width="1.2"/>
<text x="754.0" y="341.3" font-size="12" font-weight="bold" fill="#000" text-anchor="middle" font-family='"Liberation Sans", sans-serif' >100</text>
<line x1="770.0" y1="322.3" x2="770.0" y2="325.3" stroke="#000" stroke-width="1.2"/>
<line x1="770.0" y1="28.8" x2="770.0" y2="31.8" stroke="#000" stroke-width="1.2"/>
<line x1="786.0" y1="322.3" x2="786.0" y2="328.3" stroke="#000" stroke-width="1.2"/>
<line x1="786.0" y1="28.8" x2="786.0" y2="34.8" stroke="#000" stroke-width="1.2"/>
<text x="786.0" y="341.3" font-size="12" font-weight="bold" fill="#000" text-anchor="middle" font-family='"Liberation Sans", sans-serif' >120</text>
<line x1="802.0" y1="322.3" x2="802.0" y2="325.3" stroke="#000" stroke-width="1.2"/>
<line x1="802.0" y1="28.8" x2="802.0" y2="31.8" stroke="#000" stroke-width="1.2"/>
<line x1="818.1" y1="322.3" x2="818.1" y2="328.3" stroke="#000" stroke-width="1.2"/>
<line x1="818.1" y1="28.8" x2="818.1" y2="34.8" stroke="#000" stroke-width="1.2"/>
<text x="818.1" y="341.3" font-size="12" font-weight="bold" fill="#000" text-anchor="middle" font-family='"Liberation Sans", sans-serif' >140</text>
<line x1="834.1" y1="322.3" x2="834.1" y2="325.3" stroke="#000" stroke-width="1.2"/>
<line x1="834.1" y1="28.8" x2="834.1" y2="31.8" stroke="#000" stroke-width="1.2"/>
<line x1="850.1" y1="322.3" x2="850.1" y2="328.3" stroke="#000" stroke-width="1.2"/>
<line x1="850.1" y1="28.8" x2="850.1" y2="34.8" stroke="#000" stroke-width="1.2"/>
<text x="850.1" y="341.3" font-size="12" font-weight="bold" fill="#000" text-anchor="middle" font-family='"Liberation Sans", sans-serif' >160</text>
<line x1="866.1" y1="322.3" x2="866.1" y2="325.3" stroke="#000" stroke-width="1.2"/>
<line x1="866.1" y1="28.8" x2="866.1" y2="31.8" stroke="#000" stroke-width="1.2"/>
<line x1="882.1" y1="322.3" x2="882.1" y2="328.3" stroke="#000" stroke-width="1.2"/>
<line x1="882.1" y1="28.8" x2="882.1" y2="34.8" stroke="#000" stroke-width="1.2"/>
<text x="882.1" y="341.3" font-size="12" font-weight="bold" fill="#000" text-anchor="middle" font-family='"Liberation Sans", sans-serif' >180</text>
<line x1="898.2" y1="322.3" x2="898.2" y2="325.3" stroke="#000" stroke-width="1.2"/>
<line x1="898.2" y1="28.8" x2="898.2" y2="31.8" stroke="#000" stroke-width="1.2"/>
<line x1="914.2" y1="322.3" x2="914.2" y2="328.3" stroke="#000" stroke-width="1.2"/>
<line x1="914.2" y1="28.8" x2="914.2" y2="34.8" stroke="#000" stroke-width="1.2"/>
<text x="914.2" y="341.3" font-size="12" font-weight="bold" fill="#000" text-anchor="middle" font-family='"Liberation Sans", sans-serif' >200</text>
<line x1="930.2" y1="322.3" x2="930.2" y2="325.3" stroke="#000" stroke-width="1.2"/>
<line x1="930.2" y1="28.8" x2="930.2" y2="31.8" stroke="#000" stroke-width="1.2"/>
<line x1="946.2" y1="322.3" x2="946.2" y2="328.3" stroke="#000" stroke-width="1.2"/>
<line x1="946.2" y1="28.8" x2="946.2" y2="34.8" stroke="#000" stroke-width="1.2"/>
<text x="946.2" y="341.3" font-size="12" font-weight="bold" fill="#000" text-anchor="middle" font-family='"Liberation Sans", sans-serif' >220</text>
<line x1="593.7" y1="28.8" x2="593.7" y2="322.3" stroke="#000" stroke-width="1.3"/>
<line x1="587.7" y1="322.3" x2="953.8" y2="322.3" stroke="#000" stroke-width="1.3"/>
<line x1="593.1" y1="28.8" x2="953.8" y2="28.8" stroke="#000" stroke-width="1.3"/>
<line x1="953.8" y1="28.8" x2="953.8" y2="322.90000000000003" stroke="#0000ff" stroke-width="1.3"/>
<text x="737.7" y="366.0" font-size="14" font-weight="bold" fill="#000" text-anchor="start" font-family='"Liberation Sans", sans-serif' textLength="73.1" lengthAdjust="spacingAndGlyphs" >Time ( min)</text>
<text transform="translate(548.8 244.2) rotate(-90) scale(1.013 1)" font-family='"Liberation Sans", sans-serif' font-weight="bold" font-size="14" fill="#000">Temperature (<tspan dy="-7.5">o</tspan><tspan dy="7.5">C)</tspan></text>
<text transform="translate(1014.6 243.9) rotate(-90)" font-family='"Liberation Sans", sans-serif' font-weight="bold" font-size="14" fill="#000" textLength="105" lengthAdjust="spacingAndGlyphs">MW Power (kW)</text>
<text x="641.0" y="68.5" font-size="14.5" font-weight="normal" fill="#000" text-anchor="start" font-family='"Liberation Sans", sans-serif' textLength="27.4" lengthAdjust="spacingAndGlyphs" >ZBR</text>
<svg x="593.7" y="28.8" width="360.0999999999999" height="293.5" viewBox="593.7 28.8 360.0999999999999 293.5" overflow="hidden">
<polyline fill="none" stroke="#444" stroke-width="0.8" points="593.7,322.3 625.8,255.0 641.8,247.2 657.8,241.1 665.8,239.0 673.8,235.5 689.9,231.3 697.9,228.0 705.9,221.4 721.9,209.5 737.9,198.7 754.0,183.9 770.0,173.6 786.0,166.1 802.0,156.9 818.1,147.3 826.1,128.1 842.1,104.1 858.1,94.5 874.1,82.3 882.1,74.3 890.2,63.3 914.2,59.5"/>
<rect x="590.7" y="319.3" width="6" height="6" fill="#000"/>
<rect x="622.8" y="252.0" width="6" height="6" fill="#000"/>
<rect x="638.8" y="244.2" width="6" height="6" fill="#000"/>
<rect x="654.8" y="238.1" width="6" height="6" fill="#000"/>
<rect x="662.8" y="236.0" width="6" height="6" fill="#000"/>
<rect x="670.8" y="232.5" width="6" height="6" fill="#000"/>
<rect x="686.9" y="228.3" width="6" height="6" fill="#000"/>
<rect x="694.9" y="225.0" width="6" height="6" fill="#000"/>
<rect x="702.9" y="218.4" width="6" height="6" fill="#000"/>
<rect x="718.9" y="206.5" width="6" height="6" fill="#000"/>
<rect x="734.9" y="195.7" width="6" height="6" fill="#000"/>
<rect x="751.0" y="180.9" width="6" height="6" fill="#000"/>
<rect x="767.0" y="170.6" width="6" height="6" fill="#000"/>
<rect x="783.0" y="163.1" width="6" height="6" fill="#000"/>
<rect x="799.0" y="153.9" width="6" height="6" fill="#000"/>
<rect x="815.1" y="144.3" width="6" height="6" fill="#000"/>
<rect x="823.1" y="125.1" width="6" height="6" fill="#000"/>
<rect x="839.1" y="101.1" width="6" height="6" fill="#000"/>
<rect x="855.1" y="91.5" width="6" height="6" fill="#000"/>
<rect x="871.1" y="79.3" width="6" height="6" fill="#000"/>
<rect x="879.1" y="71.3" width="6" height="6" fill="#000"/>
<rect x="887.2" y="60.3" width="6" height="6" fill="#000"/>
<rect x="911.2" y="56.5" width="6" height="6" fill="#000"/>
<polyline fill="none" stroke="#3030ff" stroke-width="1" points="593.7,299.9 625.8,299.9 641.8,299.9 657.8,299.9 665.8,299.9 673.8,285.6 689.9,285.6 697.9,278.3 705.9,270.2 721.9,259.9 737.9,248.9 754.0,240.9 770.0,234.2 786.0,212.2 802.0,190.2 818.1,160.9 826.1,160.9 842.1,160.9 858.1,124.2 874.1,87.5 882.1,65.5 890.2,65.5 914.2,138.9"/>
<circle cx="593.7" cy="299.9" r="3.2" fill="#0000ff"/>
<circle cx="625.8" cy="299.9" r="3.2" fill="#0000ff"/>
<circle cx="641.8" cy="299.9" r="3.2" fill="#0000ff"/>
<circle cx="657.8" cy="299.9" r="3.2" fill="#0000ff"/>
<circle cx="665.8" cy="299.9" r="3.2" fill="#0000ff"/>
<circle cx="673.8" cy="285.6" r="3.2" fill="#0000ff"/>
<circle cx="689.9" cy="285.6" r="3.2" fill="#0000ff"/>
<circle cx="697.9" cy="278.3" r="3.2" fill="#0000ff"/>
<circle cx="705.9" cy="270.2" r="3.2" fill="#0000ff"/>
<circle cx="721.9" cy="259.9" r="3.2" fill="#0000ff"/>
<circle cx="737.9" cy="248.9" r="3.2" fill="#0000ff"/>
<circle cx="754.0" cy="240.9" r="3.2" fill="#0000ff"/>
<circle cx="770.0" cy="234.2" r="3.2" fill="#0000ff"/>
<circle cx="786.0" cy="212.2" r="3.2" fill="#0000ff"/>
<circle cx="802.0" cy="190.2" r="3.2" fill="#0000ff"/>
<circle cx="818.1" cy="160.9" r="3.2" fill="#0000ff"/>
<circle cx="826.1" cy="160.9" r="3.2" fill="#0000ff"/>
<circle cx="842.1" cy="160.9" r="3.2" fill="#0000ff"/>
<circle cx="858.1" cy="124.2" r="3.2" fill="#0000ff"/>
<circle cx="874.1" cy="87.5" r="3.2" fill="#0000ff"/>
<circle cx="882.1" cy="65.5" r="3.2" fill="#0000ff"/>
<circle cx="890.2" cy="65.5" r="3.2" fill="#0000ff"/>
<circle cx="914.2" cy="138.9" r="3.2" fill="#0000ff"/>
</svg>
<line x1="818.3" y1="147.4" x2="604.4" y2="147.4" stroke="#000" stroke-width="1.4"/>
<path d="M595.4,147.4 L604.4,144.20000000000002 L604.4,150.6 Z" fill="#000"/>
<line x1="846" y1="161.5" x2="943" y2="161.5" stroke="#000" stroke-width="1.4"/>
<path d="M952,161.5 L943,158.3 L943,164.7 Z" fill="#000"/>
<rect x="853.5" y="27.2" width="99.8" height="29.8" fill="#fff" stroke="#777" stroke-width="1"/>
<line x1="858" y1="36.4" x2="863.5" y2="36.4" stroke="#777" stroke-width="1"/><line x1="873" y1="36.4" x2="878.5" y2="36.4" stroke="#777" stroke-width="1"/>
<rect x="865.2" y="33.4" width="6" height="6" fill="#000"/>
<line x1="858" y1="50" x2="878.5" y2="50" stroke="#3a3aff" stroke-width="1"/>
<circle cx="868.2" cy="50" r="3.2" fill="#0000ff"/>
<text x="882.0" y="40.5" font-size="11.5" font-weight="bold" fill="#000" text-anchor="start" font-family='"Liberation Sans", sans-serif' textLength="66" lengthAdjust="spacingAndGlyphs" >Temperature</text>
<text x="882.0" y="54.0" font-size="11.5" font-weight="bold" fill="#000" text-anchor="start" font-family='"Liberation Sans", sans-serif' textLength="54" lengthAdjust="spacingAndGlyphs" >MW Power</text>
<text x="237.1" y="404.5" font-size="30" font-weight="normal" fill="#000" text-anchor="start" font-family='"Liberation Serif", serif' >(<tspan font-weight="bold">a</tspan>)</text>
<text x="756.9" y="404.5" font-size="30" font-weight="normal" fill="#000" text-anchor="start" font-family='"Liberation Serif", serif' >(<tspan font-weight="bold">b</tspan>)</text>
<text x="497.5" y="763.5" font-size="30" font-weight="normal" fill="#000" text-anchor="start" font-family='"Liberation Serif", serif' >(<tspan font-weight="bold">c</tspan>)</text>
<defs>
<linearGradient id="bgH" x1="0" y1="0" x2="1" y2="0"><stop offset="0" stop-color="#828c8c"/><stop offset="0.25" stop-color="#8c9696"/><stop offset="0.55" stop-color="#929c9c"/><stop offset="0.85" stop-color="#909a9a"/><stop offset="1" stop-color="#8a9494"/></linearGradient>
<linearGradient id="bgV" x1="0" y1="0" x2="0" y2="1"><stop offset="0" stop-color="#000" stop-opacity="0.05"/><stop offset="0.12" stop-color="#000" stop-opacity="0"/><stop offset="0.75" stop-color="#000" stop-opacity="0"/><stop offset="0.9" stop-color="#000" stop-opacity="0.08"/><stop offset="1" stop-color="#000" stop-opacity="0.12"/></linearGradient>
<radialGradient id="blC" gradientUnits="userSpaceOnUse" cx="267" cy="740" r="190" gradientTransform="translate(267 740) scale(1 0.42) translate(-267 -740)"><stop offset="0" stop-color="#2c302a" stop-opacity="0.55"/><stop offset="0.45" stop-color="#2c302a" stop-opacity="0.3"/><stop offset="1" stop-color="#2c302a" stop-opacity="0"/></radialGradient>
<radialGradient id="glow" gradientUnits="userSpaceOnUse" cx="515" cy="488" r="40" gradientTransform="translate(515 488) scale(1.6 0.5) translate(-515 -488)"><stop offset="0" stop-color="#a4b0b2" stop-opacity="0.3"/><stop offset="1" stop-color="#a4b0b2" stop-opacity="0"/></radialGradient>
<linearGradient id="face" x1="0" y1="0" x2="1" y2="1"><stop offset="0" stop-color="#c4cece"/><stop offset="0.5" stop-color="#b5bfbf"/><stop offset="1" stop-color="#acb6b6"/></linearGradient>
<linearGradient id="rulerV" x1="0" y1="0" x2="0" y2="1"><stop offset="0" stop-color="#fff" stop-opacity="0.25"/><stop offset="0.3" stop-color="#fff" stop-opacity="0.19"/><stop offset="0.55" stop-color="#fff" stop-opacity="0.12"/><stop offset="0.75" stop-color="#fff" stop-opacity="0.16"/><stop offset="1" stop-color="#fff" stop-opacity="0.19"/></linearGradient>
<linearGradient id="rulerH" x1="0" y1="0" x2="1" y2="0"><stop offset="0" stop-color="#000" stop-opacity="0.12"/><stop offset="0.15" stop-color="#000" stop-opacity="0"/><stop offset="1" stop-color="#000" stop-opacity="0"/></linearGradient>
<filter id="bl1" x="-5%" y="-5%" width="110%" height="110%"><feGaussianBlur stdDeviation="0.6"/></filter>
<filter id="bl2" x="-5%" y="-5%" width="110%" height="110%"><feGaussianBlur stdDeviation="1.6"/></filter>
<filter id="bl05"><feGaussianBlur stdDeviation="0.35"/></filter>
<clipPath id="pc"><rect x="267" y="411.5" width="494" height="320.9"/></clipPath>
<linearGradient id="gtop" x1="0" y1="0" x2="0" y2="0.13"><stop offset="0" stop-color="#5a6360"/><stop offset="1" stop-color="#6a7370"/></linearGradient>
</defs>
<g clip-path="url(#pc)">
<rect x="267" y="411.5" width="494" height="320.9" fill="url(#bgH)"/>
<rect x="267" y="411.5" width="494" height="320.9" fill="url(#bgV)"/>
<rect x="267" y="411.5" width="494" height="320.9" fill="url(#glow)"/>
<rect x="267" y="411.5" width="2" height="320.9" fill="#6c7676" opacity="0.6"/>
<rect x="449" y="491" width="157" height="102" rx="7" fill="#58605c" opacity="0.35" filter="url(#bl2)"/>
<g filter="url(#bl1)">
<rect x="453" y="493.2" width="149.5" height="96" rx="6" fill="url(#gtop)"/>
<rect x="453.2" y="505" width="135.8" height="78" fill="url(#face)"/>
<path d="M453.2,582 L589,581.5 L589,588.6 L457,589.6 Q453.2,589.6 453.2,586 Z" fill="#a0aaaa"/>
<rect x="453.2" y="505" width="2.2" height="82" fill="#cfd7d7" opacity="0.8"/>
<rect x="455" y="504" width="133" height="3" fill="#d0d8d8" opacity="0.7"/>
<rect x="589.5" y="497" width="11" height="89" fill="#4f5753" opacity="0.85"/>
</g>
<g filter="url(#bl05)"><ellipse cx="498.1" cy="517.6" rx="2.62" ry="0.54" transform="rotate(-40 498.1 517.6)" fill="#e6eeee" opacity="0.44"/><ellipse cx="503.5" cy="511.1" rx="2.22" ry="0.52" transform="rotate(-40 503.5 511.1)" fill="#e6eeee" opacity="0.40"/><ellipse cx="465.1" cy="513.3" rx="1.99" ry="1.00" transform="rotate(-40 465.1 513.3)" fill="#e6eeee" opacity="0.26"/><ellipse cx="485.0" cy="550.9" rx="3.45" ry="0.85" transform="rotate(-40 485.0 550.9)" fill="#e6eeee" opacity="0.38"/><ellipse cx="582.9" cy="510.3" rx="3.20" ry="0.67" transform="rotate(-40 582.9 510.3)" fill="#e6eeee" opacity="0.26"/><ellipse cx="471.3" cy="528.6" rx="3.09" ry="0.61" transform="rotate(-40 471.3 528.6)" fill="#e6eeee" opacity="0.46"/><ellipse cx="539.1" cy="533.1" rx="2.33" ry="0.54" transform="rotate(-40 539.1 533.1)" fill="#e6eeee" opacity="0.23"/><ellipse cx="482.8" cy="554.6" rx="2.00" ry="0.69" transform="rotate(-40 482.8 554.6)" fill="#e6eeee" opacity="0.46"/><ellipse cx="514.9" cy="528.0" rx="3.02" ry="0.92" transform="rotate(-40 514.9 528.0)" fill="#e6eeee" opacity="0.31"/><ellipse cx="530.7" cy="543.8" rx="3.25" ry="0.94" transform="rotate(-40 530.7 543.8)" fill="#e6eeee" opacity="0.33"/><ellipse cx="583.4" cy="515.3" rx="1.97" ry="0.95" transform="rotate(-40 583.4 515.3)" fill="#e6eeee" opacity="0.27"/><ellipse cx="519.6" cy="509.7" rx="2.67" ry="0.96" transform="rotate(-40 519.6 509.7)" fill="#e6eeee" opacity="0.46"/><ellipse cx="569.8" cy="529.0" rx="2.75" ry="0.86" transform="rotate(-40 569.8 529.0)" fill="#e6eeee" opacity="0.46"/><ellipse cx="515.3" cy="565.8" rx="3.45" ry="0.78" transform="rotate(-40 515.3 565.8)" fill="#e6eeee" opacity="0.50"/><ellipse cx="463.9" cy="556.1" rx="2.61" ry="1.10" transform="rotate(-40 463.9 556.1)" fill="#e6eeee" opacity="0.57"/><ellipse cx="493.0" cy="534.0" rx="2.67" ry="0.51" transform="rotate(-40 493.0 534.0)" fill="#e6eeee" opacity="0.41"/><ellipse cx="477.8" cy="515.2" rx="0.97" ry="0.96" transform="rotate(-40 477.8 515.2)" fill="#e6eeee" opacity="0.26"/><ellipse cx="488.2" cy="534.4" rx="3.24" ry="0.55" transform="rotate(-40 488.2 534.4)" fill="#e6eeee" opacity="0.40"/><ellipse cx="527.4" cy="568.8" rx="3.09" ry="1.02" transform="rotate(-40 527.4 568.8)" fill="#e6eeee" opacity="0.33"/><ellipse cx="510.0" cy="532.1" rx="3.28" ry="1.07" transform="rotate(-40 510.0 532.1)" fill="#e6eeee" opacity="0.27"/><ellipse cx="478.9" cy="523.2" rx="1.45" ry="0.79" transform="rotate(-40 478.9 523.2)" fill="#e6eeee" opacity="0.47"/><ellipse cx="490.2" cy="507.3" rx="1.97" ry="0.72" transform="rotate(-40 490.2 507.3)" fill="#e6eeee" opacity="0.45"/><ellipse cx="579.9" cy="555.3" rx="2.24" ry="0.87" transform="rotate(-40 579.9 555.3)" fill="#e6eeee" opacity="0.50"/><ellipse cx="463.0" cy="570.0" rx="2.98" ry="1.02" transform="rotate(-40 463.0 570.0)" fill="#e6eeee" opacity="0.56"/><ellipse cx="507.0" cy="534.9" rx="1.09" ry="0.88" transform="rotate(-40 507.0 534.9)" fill="#e6eeee" opacity="0.23"/><ellipse cx="464.8" cy="521.6" rx="1.25" ry="0.70" transform="rotate(-40 464.8 521.6)" fill="#e6eeee" opacity="0.22"/><ellipse cx="456.0" cy="517.6" rx="1.08" ry="0.72" transform="rotate(-40 456.0 517.6)" fill="#e6eeee" opacity="0.21"/><ellipse cx="569.7" cy="550.0" rx="1.22" ry="0.65" transform="rotate(-40 569.7 550.0)" fill="#e6eeee" opacity="0.36"/><ellipse cx="503.3" cy="515.6" rx="3.18" ry="1.10" transform="rotate(-40 503.3 515.6)" fill="#e6eeee" opacity="0.41"/><ellipse cx="518.9" cy="513.0" rx="1.09" ry="0.71" transform="rotate(-40 518.9 513.0)" fill="#e6eeee" opacity="0.32"/><ellipse cx="563.8" cy="518.3" rx="0.86" ry="1.07" transform="rotate(-40 563.8 518.3)" fill="#e6eeee" opacity="0.44"/><ellipse cx="475.1" cy="545.0" rx="0.88" ry="0.82" transform="rotate(-40 475.1 545.0)" fill="#e6eeee" opacity="0.64"/><ellipse cx="568.2" cy="555.7" rx="1.53" ry="0.72" transform="rotate(-40 568.2 555.7)" fill="#e6eeee" opacity="0.28"/><ellipse cx="556.4" cy="544.3" rx="2.98" ry="0.70" transform="rotate(-40 556.4 544.3)" fill="#e6eeee" opacity="0.30"/><ellipse cx="561.5" cy="575.9" rx="3.19" ry="0.98" transform="rotate(-40 561.5 575.9)" fill="#e6eeee" opacity="0.57"/><ellipse cx="552.2" cy="522.9" rx="2.25" ry="0.71" transform="rotate(-40 552.2 522.9)" fill="#e6eeee" opacity="0.21"/><ellipse cx="459.6" cy="526.6" rx="1.53" ry="0.92" transform="rotate(-40 459.6 526.6)" fill="#e6eeee" opacity="0.63"/><ellipse cx="514.1" cy="572.6" rx="3.57" ry="1.07" transform="rotate(-40 514.1 572.6)" fill="#e6eeee" opacity="0.36"/><ellipse cx="484.7" cy="522.9" rx="1.35" ry="0.62" transform="rotate(-40 484.7 522.9)" fill="#e6eeee" opacity="0.48"/><ellipse cx="573.0" cy="565.8" rx="2.14" ry="0.89" transform="rotate(-40 573.0 565.8)" fill="#e6eeee" opacity="0.56"/><ellipse cx="467.0" cy="553.2" rx="3.35" ry="0.97" transform="rotate(-40 467.0 553.2)" fill="#e6eeee" opacity="0.54"/><ellipse cx="518.1" cy="519.5" rx="3.01" ry="0.70" transform="rotate(-40 518.1 519.5)" fill="#e6eeee" opacity="0.56"/><ellipse cx="582.3" cy="534.7" rx="1.92" ry="1.07" transform="rotate(-40 582.3 534.7)" fill="#e6eeee" opacity="0.53"/><ellipse cx="478.1" cy="515.9" rx="1.22" ry="1.04" transform="rotate(-40 478.1 515.9)" fill="#e6eeee" opacity="0.56"/><ellipse cx="475.0" cy="564.9" rx="3.54" ry="0.89" transform="rotate(-40 475.0 564.9)" fill="#e6eeee" opacity="0.36"/><ellipse cx="527.3" cy="516.2" rx="0.84" ry="1.08" transform="rotate(-40 527.3 516.2)" fill="#e6eeee" opacity="0.49"/><ellipse cx="524.5" cy="572.4" rx="2.01" ry="1.02" transform="rotate(-40 524.5 572.4)" fill="#e6eeee" opacity="0.57"/><ellipse cx="483.4" cy="524.6" rx="1.62" ry="0.64" transform="rotate(-40 483.4 524.6)" fill="#e6eeee" opacity="0.46"/><ellipse cx="489.7" cy="536.3" rx="1.17" ry="1.05" transform="rotate(-40 489.7 536.3)" fill="#e6eeee" opacity="0.36"/><ellipse cx="515.6" cy="547.8" rx="3.33" ry="0.75" transform="rotate(-40 515.6 547.8)" fill="#e6eeee" opacity="0.61"/><ellipse cx="521.2" cy="544.2" rx="2.27" ry="0.51" transform="rotate(-40 521.2 544.2)" fill="#e6eeee" opacity="0.40"/><ellipse cx="479.8" cy="507.3" rx="3.04" ry="0.60" transform="rotate(-40 479.8 507.3)" fill="#e6eeee" opacity="0.41"/><ellipse cx="550.3" cy="546.0" rx="1.71" ry="0.81" transform="rotate(-40 550.3 546.0)" fill="#e6eeee" opacity="0.45"/><ellipse cx="558.0" cy="514.4" rx="2.37" ry="0.65" transform="rotate(-40 558.0 514.4)" fill="#e6eeee" opacity="0.32"/><ellipse cx="556.4" cy="542.5" rx="2.37" ry="0.96" transform="rotate(-40 556.4 542.5)" fill="#e6eeee" opacity="0.61"/><ellipse cx="513.6" cy="549.9" rx="2.22" ry="0.81" transform="rotate(-40 513.6 549.9)" fill="#e6eeee" opacity="0.51"/><ellipse cx="514.8" cy="544.3" rx="2.14" ry="1.06" transform="rotate(-40 514.8 544.3)" fill="#e6eeee" opacity="0.51"/><ellipse cx="569.9" cy="573.0" rx="1.53" ry="0.84" transform="rotate(-40 569.9 573.0)" fill="#e6eeee" opacity="0.62"/><ellipse cx="565.2" cy="516.6" rx="1.14" ry="0.77" transform="rotate(-40 565.2 516.6)" fill="#e6eeee" opacity="0.23"/><ellipse cx="487.3" cy="512.1" rx="2.67" ry="0.97" transform="rotate(-40 487.3 512.1)" fill="#e6eeee" opacity="0.60"/><ellipse cx="476.1" cy="557.1" rx="2.65" ry="0.59" transform="rotate(-40 476.1 557.1)" fill="#e6eeee" opacity="0.60"/><ellipse cx="581.8" cy="522.4" rx="3.47" ry="0.74" transform="rotate(-40 581.8 522.4)" fill="#e6eeee" opacity="0.42"/><ellipse cx="584.7" cy="565.3" rx="1.25" ry="0.76" transform="rotate(-40 584.7 565.3)" fill="#e6eeee" opacity="0.43"/><ellipse cx="500.1" cy="520.7" rx="1.69" ry="0.93" transform="rotate(-40 500.1 520.7)" fill="#e6eeee" opacity="0.21"/><ellipse cx="528.0" cy="537.8" rx="0.85" ry="0.70" transform="rotate(-40 528.0 537.8)" fill="#e6eeee" opacity="0.48"/><ellipse cx="522.6" cy="511.5" rx="3.56" ry="0.97" transform="rotate(-40 522.6 511.5)" fill="#e6eeee" opacity="0.64"/><ellipse cx="469.6" cy="525.6" rx="0.91" ry="0.97" transform="rotate(-40 469.6 525.6)" fill="#e6eeee" opacity="0.32"/><ellipse cx="472.8" cy="536.6" rx="3.35" ry="0.99" transform="rotate(-40 472.8 536.6)" fill="#e6eeee" opacity="0.32"/><ellipse cx="475.4" cy="571.3" rx="2.40" ry="0.92" transform="rotate(-40 475.4 571.3)" fill="#e6eeee" opacity="0.24"/><ellipse cx="463.5" cy="555.2" rx="1.99" ry="0.54" transform="rotate(-40 463.5 555.2)" fill="#e6eeee" opacity="0.62"/><ellipse cx="538.5" cy="563.1" rx="1.03" ry="1.01" transform="rotate(-40 538.5 563.1)" fill="#e6eeee" opacity="0.23"/><ellipse cx="568.2" cy="538.8" rx="1.75" ry="0.83" transform="rotate(-40 568.2 538.8)" fill="#e6eeee" opacity="0.62"/><ellipse cx="490.8" cy="516.0" rx="2.28" ry="0.64" transform="rotate(-40 490.8 516.0)" fill="#e6eeee" opacity="0.25"/><ellipse cx="477.0" cy="510.5" rx="1.36" ry="0.69" transform="rotate(-40 477.0 510.5)" fill="#e6eeee" opacity="0.34"/><ellipse cx="554.7" cy="527.3" rx="2.20" ry="0.61" transform="rotate(-40 554.7 527.3)" fill="#e6eeee" opacity="0.36"/><ellipse cx="458.4" cy="524.5" rx="0.84" ry="0.94" transform="rotate(-40 458.4 524.5)" fill="#e6eeee" opacity="0.45"/><ellipse cx="480.6" cy="540.2" rx="3.42" ry="0.56" transform="rotate(-40 480.6 540.2)" fill="#e6eeee" opacity="0.57"/><ellipse cx="512.2" cy="541.7" rx="3.14" ry="0.74" transform="rotate(-40 512.2 541.7)" fill="#e6eeee" opacity="0.43"/><ellipse cx="545.4" cy="575.8" rx="1.76" ry="1.00" transform="rotate(-40 545.4 575.8)" fill="#e6eeee" opacity="0.52"/><ellipse cx="538.7" cy="535.3" rx="1.77" ry="0.53" transform="rotate(-40 538.7 535.3)" fill="#e6eeee" opacity="0.26"/><ellipse cx="465.2" cy="558.9" rx="1.52" ry="0.60" transform="rotate(-40 465.2 558.9)" fill="#e6eeee" opacity="0.24"/><ellipse cx="565.4" cy="567.9" rx="2.68" ry="0.67" transform="rotate(-40 565.4 567.9)" fill="#e6eeee" opacity="0.31"/><ellipse cx="494.1" cy="539.2" rx="1.24" ry="0.77" transform="rotate(-40 494.1 539.2)" fill="#e6eeee" opacity="0.32"/><ellipse cx="581.0" cy="575.1" rx="2.33" ry="0.65" transform="rotate(-40 581.0 575.1)" fill="#e6eeee" opacity="0.63"/><ellipse cx="496.2" cy="532.0" rx="0.80" ry="0.73" transform="rotate(-40 496.2 532.0)" fill="#e6eeee" opacity="0.41"/><ellipse cx="521.4" cy="521.1" rx="2.21" ry="0.50" transform="rotate(-40 521.4 521.1)" fill="#e6eeee" opacity="0.32"/><ellipse cx="467.7" cy="535.0" rx="0.92" ry="0.51" transform="rotate(-40 467.7 535.0)" fill="#e6eeee" opacity="0.34"/><ellipse cx="486.3" cy="548.0" rx="2.28" ry="0.95" transform="rotate(-40 486.3 548.0)" fill="#e6eeee" opacity="0.50"/><ellipse cx="549.1" cy="568.5" rx="1.89" ry="0.70" transform="rotate(-40 549.1 568.5)" fill="#e6eeee" opacity="0.64"/><ellipse cx="475.4" cy="557.7" rx="2.60" ry="0.53" transform="rotate(-40 475.4 557.7)" fill="#e6eeee" opacity="0.58"/><ellipse cx="572.0" cy="550.9" rx="2.85" ry="0.99" transform="rotate(-40 572.0 550.9)" fill="#e6eeee" opacity="0.26"/><ellipse cx="524.1" cy="542.3" rx="3.14" ry="0.98" transform="rotate(-40 524.1 542.3)" fill="#e6eeee" opacity="0.57"/><ellipse cx="531.9" cy="569.5" rx="2.71" ry="0.92" transform="rotate(-40 531.9 569.5)" fill="#e6eeee" opacity="0.30"/><ellipse cx="460.1" cy="516.3" rx="1.81" ry="0.56" transform="rotate(-40 460.1 516.3)" fill="#e6eeee" opacity="0.58"/><ellipse cx="528.6" cy="550.9" rx="2.55" ry="0.91" transform="rotate(-40 528.6 550.9)" fill="#e6eeee" opacity="0.42"/><ellipse cx="456.4" cy="562.8" rx="2.90" ry="0.80" transform="rotate(-40 456.4 562.8)" fill="#e6eeee" opacity="0.44"/><ellipse cx="541.7" cy="511.6" rx="2.86" ry="0.65" transform="rotate(-40 541.7 511.6)" fill="#e6eeee" opacity="0.23"/><ellipse cx="490.5" cy="558.1" rx="1.37" ry="0.94" transform="rotate(-40 490.5 558.1)" fill="#e6eeee" opacity="0.64"/><ellipse cx="520.2" cy="533.8" rx="2.14" ry="0.91" transform="rotate(-40 520.2 533.8)" fill="#e6eeee" opacity="0.55"/><ellipse cx="536.2" cy="552.0" rx="1.02" ry="0.59" transform="rotate(-40 536.2 552.0)" fill="#e6eeee" opacity="0.31"/><ellipse cx="552.6" cy="528.3" rx="2.39" ry="0.51" transform="rotate(-40 552.6 528.3)" fill="#e6eeee" opacity="0.23"/><ellipse cx="490.9" cy="554.0" rx="2.74" ry="0.91" transform="rotate(-40 490.9 554.0)" fill="#e6eeee" opacity="0.33"/><ellipse cx="523.1" cy="539.5" rx="2.11" ry="0.57" transform="rotate(-40 523.1 539.5)" fill="#e6eeee" opacity="0.60"/><ellipse cx="481.9" cy="575.5" rx="3.42" ry="0.51" transform="rotate(-40 481.9 575.5)" fill="#e6eeee" opacity="0.41"/><ellipse cx="562.6" cy="574.8" rx="2.06" ry="0.66" transform="rotate(-40 562.6 574.8)" fill="#e6eeee" opacity="0.29"/><ellipse cx="578.9" cy="521.7" rx="2.43" ry="0.59" transform="rotate(-40 578.9 521.7)" fill="#e6eeee" opacity="0.44"/><ellipse cx="579.9" cy="516.3" rx="3.10" ry="0.81" transform="rotate(-40 579.9 516.3)" fill="#e6eeee" opacity="0.60"/><ellipse cx="547.4" cy="523.2" rx="3.31" ry="0.79" transform="rotate(-40 547.4 523.2)" fill="#e6eeee" opacity="0.21"/><ellipse cx="456.5" cy="541.4" rx="2.06" ry="0.68" transform="rotate(-40 456.5 541.4)" fill="#e6eeee" opacity="0.26"/><ellipse cx="500.7" cy="529.1" rx="3.15" ry="0.50" transform="rotate(-40 500.7 529.1)" fill="#e6eeee" opacity="0.54"/></g>
<path d="M470,560 Q520,520 585,512" stroke="#d8e0e0" stroke-width="6" fill="none" opacity="0.12" filter="url(#bl2)"/>
<path d="M585,564.3 Q589.5,564 592.5,567" stroke="#f4f8f8" stroke-width="1.5" fill="none" stroke-linecap="round"/>
<g filter="url(#bl1)">
<path d="M289,608.8 L761,600.2 L761,700.5 L288,710.6 Q285,710.6 285,707 L286.5,612 Q286.8,608.9 289,608.8 Z" fill="url(#rulerV)"/>
<path d="M287.2,613 L285.6,706" stroke="#c2cccc" stroke-width="1.6" opacity="0.8"/>
<path d="M290,608.6 L761,600" stroke="#2e3437" stroke-width="1.2"/>
<path d="M287,637.4 L761,630.6" stroke="#bcc8c8" stroke-width="2"/>
<path d="M560,631.5 L761,625.8" stroke="#c0c8c8" stroke-width="1.3" opacity="0.8"/>
<path d="M287,682.6 L761,673" stroke="#a8b4b4" stroke-width="2"/>
<path d="M289,711 L761,700.8" stroke="#5f6866" stroke-width="1.3" opacity="0.7"/>
<path d="M612,648 L761,643.6" stroke="#e2e8e8" stroke-width="2.2"/>
<path d="M600,650 L761,647" stroke="#c4cccc" stroke-width="2" opacity="0.6"/>
</g>
<path d="M294.2,608.9 l-0.06,5.5 M298.2,608.8 l-0.06,5.5 M302.3,608.8 l-0.06,5.5 M306.3,608.7 l-0.06,5.5 M310.3,608.6 l-0.08,8 M314.3,608.5 l-0.06,5.5 M318.3,608.5 l-0.06,5.5 M322.4,608.4 l-0.06,5.5 M326.4,608.3 l-0.06,5.5 M330.4,608.3 l-0.15,14.5 M334.4,608.2 l-0.06,5.5 M338.4,608.1 l-0.06,5.5 M342.5,608.0 l-0.06,5.5 M346.5,608.0 l-0.06,5.5 M350.5,607.9 l-0.08,8 M354.5,607.8 l-0.06,5.5 M358.5,607.8 l-0.06,5.5 M362.6,607.7 l-0.06,5.5 M366.6,607.6 l-0.06,5.5 M370.6,607.5 l-0.15,14.5 M374.6,607.5 l-0.06,5.5 M378.6,607.4 l-0.06,5.5 M382.6,607.3 l-0.06,5.5 M386.6,607.3 l-0.06,5.5 M390.6,607.2 l-0.08,8 M394.7,607.1 l-0.06,5.5 M398.7,607.0 l-0.06,5.5 M402.7,607.0 l-0.06,5.5 M406.7,606.9 l-0.06,5.5 M410.7,606.8 l-0.15,14.5 M414.7,606.8 l-0.06,5.5 M418.7,606.7 l-0.06,5.5 M422.7,606.6 l-0.06,5.5 M426.7,606.6 l-0.06,5.5 M430.6,606.5 l-0.08,8 M434.6,606.4 l-0.06,5.5 M438.6,606.3 l-0.06,5.5 M442.6,606.3 l-0.06,5.5 M446.6,606.2 l-0.06,5.5 M450.6,606.1 l-0.15,14.5 M454.6,606.1 l-0.06,5.5 M458.5,606.0 l-0.06,5.5 M462.5,605.9 l-0.06,5.5 M466.5,605.8 l-0.06,5.5 M470.5,605.8 l-0.08,8 M474.4,605.7 l-0.06,5.5 M478.4,605.6 l-0.06,5.5 M482.4,605.6 l-0.06,5.5 M486.3,605.5 l-0.06,5.5 M490.3,605.4 l-0.15,14.5 M494.3,605.3 l-0.06,5.5 M498.4,605.3 l-0.06,5.5 M502.4,605.2 l-0.06,5.5 M506.5,605.1 l-0.06,5.5 M510.5,605.1 l-0.08,8 M514.6,605.0 l-0.06,5.5 M518.6,604.9 l-0.06,5.5 M522.7,604.8 l-0.06,5.5 M526.8,604.8 l-0.06,5.5 M530.8,604.7 l-0.15,14.5 M534.8,604.6 l-0.06,5.5 M538.8,604.6 l-0.06,5.5 M542.8,604.5 l-0.06,5.5 M546.8,604.4 l-0.06,5.5 M550.8,604.3 l-0.08,8 M554.8,604.3 l-0.06,5.5 M558.8,604.2 l-0.06,5.5 M562.8,604.1 l-0.06,5.5 M566.8,604.1 l-0.06,5.5 M570.8,604.0 l-0.15,14.5 M574.7,603.9 l-0.06,5.5 M578.6,603.8 l-0.06,5.5 M582.5,603.8 l-0.06,5.5 M586.4,603.7 l-0.06,5.5 M590.3,603.6 l-0.08,8 M594.2,603.6 l-0.06,5.5 M598.1,603.5 l-0.06,5.5 M602.0,603.4 l-0.06,5.5 M605.9,603.4 l-0.06,5.5 M609.8,603.3 l-0.15,14.5 M613.7,603.2 l-0.06,5.5 M617.7,603.2 l-0.06,5.5 M621.6,603.1 l-0.06,5.5 M625.6,603.0 l-0.06,5.5 M629.5,602.9 l-0.08,8 M633.4,602.9 l-0.06,5.5 M637.4,602.8 l-0.06,5.5 M641.3,602.7 l-0.06,5.5 M645.3,602.7 l-0.06,5.5 M649.2,602.6 l-0.15,14.5 M653.1,602.5 l-0.06,5.5 M657.0,602.5 l-0.06,5.5 M661.0,602.4 l-0.06,5.5 M664.9,602.3 l-0.06,5.5 M668.8,602.2 l-0.08,8 M672.7,602.2 l-0.06,5.5 M676.6,602.1 l-0.06,5.5 M680.6,602.0 l-0.06,5.5 M684.5,602.0 l-0.06,5.5 M688.4,601.9 l-0.15,14.5 M692.3,601.8 l-0.06,5.5 M696.2,601.8 l-0.06,5.5 M700.0,601.7 l-0.06,5.5 M703.9,601.6 l-0.06,5.5 M707.8,601.5 l-0.08,8 M711.7,601.5 l-0.06,5.5 M715.6,601.4 l-0.06,5.5 M719.4,601.3 l-0.06,5.5 M723.3,601.3 l-0.06,5.5 M727.2,601.2 l-0.15,14.5 M731.1,601.1 l-0.06,5.5 M735.0,601.1 l-0.06,5.5 M738.8,601.0 l-0.06,5.5 M742.7,600.9 l-0.06,5.5 M746.6,600.9 l-0.08,8 M750.5,600.8 l-0.06,5.5 M754.4,600.7 l-0.06,5.5 M758.2,600.6 l-0.06,5.5" stroke="#23282a" stroke-width="1.25" fill="none" filter="url(#bl05)"/>
<g filter="url(#bl05)"><text x="330.1" y="626.3" font-size="11.5" text-anchor="end" font-family='"Liberation Sans", sans-serif' fill="#1d2224" stroke="#1d2224" stroke-width="0.25">1</text><text x="370.3" y="625.5" font-size="11.5" text-anchor="end" font-family='"Liberation Sans", sans-serif' fill="#1d2224" stroke="#1d2224" stroke-width="0.25">2</text><text x="410.4" y="624.8" font-size="11.5" text-anchor="end" font-family='"Liberation Sans", sans-serif' fill="#1d2224" stroke="#1d2224" stroke-width="0.25">3</text><text x="450.3" y="624.1" font-size="11.5" text-anchor="end" font-family='"Liberation Sans", sans-serif' fill="#1d2224" stroke="#1d2224" stroke-width="0.25">4</text><text x="490.0" y="623.4" font-size="11.5" text-anchor="end" font-family='"Liberation Sans", sans-serif' fill="#1d2224" stroke="#1d2224" stroke-width="0.25">5</text><text x="530.5" y="622.7" font-size="11.5" text-anchor="end" font-family='"Liberation Sans", sans-serif' fill="#1d2224" stroke="#1d2224" stroke-width="0.25">6</text><text x="570.5" y="622.0" font-size="11.5" text-anchor="end" font-family='"Liberation Sans", sans-serif' fill="#1d2224" stroke="#1d2224" stroke-width="0.25">7</text><text x="609.5" y="621.3" font-size="11.5" text-anchor="end" font-family='"Liberation Sans", sans-serif' fill="#1d2224" stroke="#1d2224" stroke-width="0.25">8</text><text x="648.9" y="620.6" font-size="11.5" text-anchor="end" font-family='"Liberation Sans", sans-serif' fill="#1d2224" stroke="#1d2224" stroke-width="0.25">9</text><text x="685.4" y="619.9" font-size="11" font-family='"Liberation Sans", sans-serif' fill="#1d2224" stroke="#1d2224" stroke-width="0.25" textLength="11" lengthAdjust="spacingAndGlyphs">10</text><text x="724.2" y="619.2" font-size="11" font-family='"Liberation Sans", sans-serif' fill="#1d2224" stroke="#1d2224" stroke-width="0.25" textLength="11" lengthAdjust="spacingAndGlyphs">11</text><text x="291" y="626.0" font-size="11.5" font-family='"Liberation Sans", sans-serif' fill="#23282a" textLength="21" lengthAdjust="spacingAndGlyphs">cms</text></g>
<path d="M287.5,619 L291.5,618 L292,630 L287.5,631.5 Z" fill="#1a1c18" filter="url(#bl05)"/>
<path d="M285.3,708.0 l0.18,-18 M291.8,707.9 l0.06,-6 M298.3,707.7 l0.06,-6 M304.8,707.6 l0.06,-6 M311.4,707.4 l0.07,-7 M317.9,707.3 l0.06,-6 M324.4,707.1 l0.06,-6 M330.9,707.0 l0.06,-6 M337.4,706.9 l0.09,-9 M343.9,706.7 l0.06,-6 M350.4,706.6 l0.06,-6 M356.9,706.4 l0.06,-6 M363.5,706.3 l0.07,-7 M370.0,706.2 l0.06,-6 M376.5,706.0 l0.06,-6 M383.0,705.9 l0.06,-6 M389.5,705.7 l0.18,-18 M399.9,705.5 l0.10,-10 M410.3,705.3 l0.10,-10 M420.8,705.1 l0.10,-10 M431.2,704.8 l0.10,-10 M441.6,704.6 l0.12,-12.5 M452.0,704.4 l0.10,-10 M462.4,704.2 l0.10,-10 M472.9,703.9 l0.10,-10 M483.3,703.7 l0.10,-10 M493.7,703.5 l0.18,-18 M500.2,703.3 l0.06,-6 M506.7,703.2 l0.06,-6 M513.2,703.1 l0.06,-6 M519.8,702.9 l0.07,-7 M526.3,702.8 l0.06,-6 M532.8,702.6 l0.06,-6 M539.3,702.5 l0.06,-6 M545.8,702.4 l0.09,-9 M552.3,702.2 l0.06,-6 M558.8,702.1 l0.06,-6 M565.3,701.9 l0.06,-6 M571.9,701.8 l0.07,-7 M578.4,701.7 l0.06,-6 M584.9,701.5 l0.06,-6 M591.4,701.4 l0.06,-6 M597.9,701.2 l0.18,-18 M608.3,701.0 l0.10,-10 M618.7,700.8 l0.10,-10 M629.2,700.6 l0.10,-10 M639.6,700.3 l0.10,-10 M650.0,700.1 l0.12,-12.5 M660.4,699.9 l0.10,-10 M670.8,699.7 l0.10,-10 M681.3,699.4 l0.10,-10 M691.7,699.2 l0.10,-10 M702.1,699.0 l0.18,-18 M712.5,698.7 l0.10,-10 M722.9,698.5 l0.10,-10 M733.4,698.3 l0.10,-10 M743.8,698.1 l0.10,-10 M754.2,697.8 l0.12,-12.5" stroke="#262b2d" stroke-width="1.2" fill="none" filter="url(#bl05)"/>
<g filter="url(#bl05)"><text transform="translate(288.6 689.0) rotate(180)" font-size="11.5" text-anchor="end" font-family='"Liberation Sans", sans-serif' fill="#23282a">6</text><text transform="translate(392.8 686.8) rotate(180)" font-size="11.5" text-anchor="end" font-family='"Liberation Sans", sans-serif' fill="#23282a">5</text><text transform="translate(497.0 684.5) rotate(180)" font-size="11.5" text-anchor="end" font-family='"Liberation Sans", sans-serif' fill="#23282a">4</text><text transform="translate(601.2 682.3) rotate(180)" font-size="11.5" text-anchor="end" font-family='"Liberation Sans", sans-serif' fill="#23282a">3</text><text transform="translate(705.4 680.0) rotate(180)" font-size="11.5" text-anchor="end" font-family='"Liberation Sans", sans-serif' fill="#23282a">2</text></g>
<rect x="267" y="411.5" width="494" height="320.9" fill="url(#blC)"/>
</g>
</svg>
</body></html>
